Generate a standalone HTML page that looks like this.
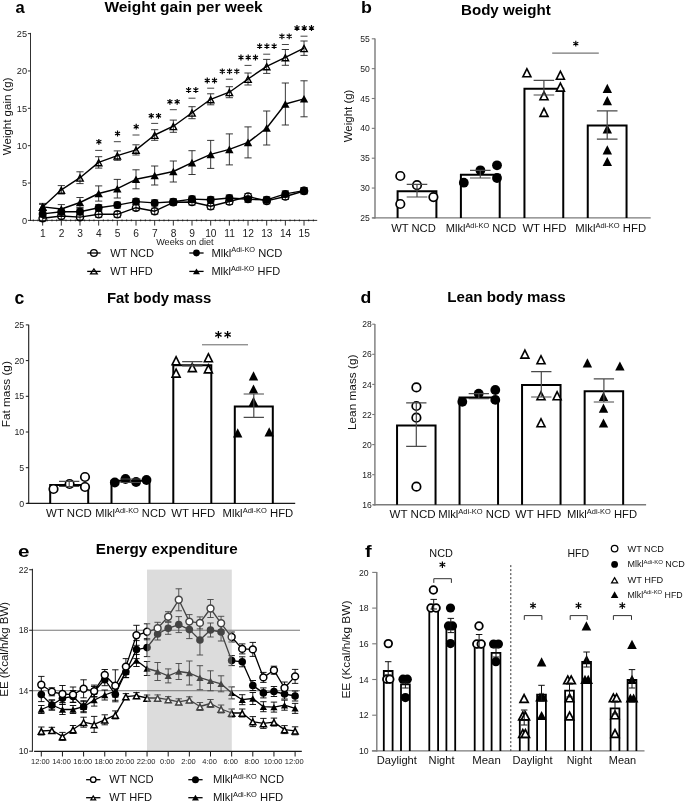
<!DOCTYPE html>
<html><head><meta charset="utf-8"><style>
html,body{margin:0;padding:0;background:#fff;}
svg{display:block;will-change:transform;filter:blur(0.3px);}
text{font-family:"Liberation Sans",sans-serif;}
</style></head><body>
<svg width="685" height="803" viewBox="0 0 685 803">
<rect width="685" height="803" fill="#fff"/>
<text x="15.6" y="13.1" font-size="16.5" font-weight="bold" fill="#000">a</text>
<text x="104.4" y="12.2" font-size="14" font-weight="bold" textLength="158.3" lengthAdjust="spacingAndGlyphs" fill="#000">Weight gain per week</text>
<line x1="30.5" y1="32.9" x2="30.5" y2="220.9" stroke="#1a1a1a" stroke-width="0.9"/>
<line x1="30" y1="220.4" x2="317.2" y2="220.4" stroke="#1a1a1a" stroke-width="0.9"/>
<line x1="27.9" y1="220.4" x2="30.5" y2="220.4" stroke="#1a1a1a" stroke-width="0.9"/>
<text x="27.1" y="223.7" font-size="9.2" text-anchor="end" fill="#222">0</text>
<line x1="27.9" y1="183.04" x2="30.5" y2="183.04" stroke="#1a1a1a" stroke-width="0.9"/>
<text x="27.1" y="186.34" font-size="9.2" text-anchor="end" fill="#222">5</text>
<line x1="27.9" y1="145.68" x2="30.5" y2="145.68" stroke="#1a1a1a" stroke-width="0.9"/>
<text x="27.1" y="148.98" font-size="9.2" text-anchor="end" fill="#222">10</text>
<line x1="27.9" y1="108.32" x2="30.5" y2="108.32" stroke="#1a1a1a" stroke-width="0.9"/>
<text x="27.1" y="111.62" font-size="9.2" text-anchor="end" fill="#222">15</text>
<line x1="27.9" y1="70.96" x2="30.5" y2="70.96" stroke="#1a1a1a" stroke-width="0.9"/>
<text x="27.1" y="74.26" font-size="9.2" text-anchor="end" fill="#222">20</text>
<line x1="27.9" y1="33.6" x2="30.5" y2="33.6" stroke="#1a1a1a" stroke-width="0.9"/>
<text x="27.1" y="36.9" font-size="9.2" text-anchor="end" fill="#222">25</text>
<path d="M33.31 219.5V221.3M37.98 219.5V221.3M47.32 219.5V221.3M51.98 219.5V221.3M56.65 219.5V221.3M65.99 219.5V221.3M70.66 219.5V221.3M75.32 219.5V221.3M84.66 219.5V221.3M89.33 219.5V221.3M93.99 219.5V221.3M103.33 219.5V221.3M108 219.5V221.3M112.66 219.5V221.3M122 219.5V221.3M126.67 219.5V221.3M131.33 219.5V221.3M140.67 219.5V221.3M145.34 219.5V221.3M150 219.5V221.3M159.34 219.5V221.3M164.01 219.5V221.3M168.67 219.5V221.3M178.01 219.5V221.3M182.68 219.5V221.3M187.34 219.5V221.3M196.68 219.5V221.3M201.35 219.5V221.3M206.01 219.5V221.3M215.35 219.5V221.3M220.02 219.5V221.3M224.68 219.5V221.3M234.02 219.5V221.3M238.69 219.5V221.3M243.35 219.5V221.3M252.69 219.5V221.3M257.36 219.5V221.3M262.02 219.5V221.3M271.36 219.5V221.3M276.03 219.5V221.3M280.69 219.5V221.3M290.03 219.5V221.3M294.69 219.5V221.3M299.36 219.5V221.3M308.7 219.5V221.3M313.37 219.5V221.3" stroke="#1a1a1a" stroke-width="0.9"/>
<line x1="42.65" y1="220.4" x2="42.65" y2="225.6" stroke="#1a1a1a" stroke-width="0.9"/>
<text x="42.85" y="236.5" font-size="10.2" text-anchor="middle" fill="#222">1</text>
<line x1="61.32" y1="220.4" x2="61.32" y2="225.6" stroke="#1a1a1a" stroke-width="0.9"/>
<text x="61.52" y="236.5" font-size="10.2" text-anchor="middle" fill="#222">2</text>
<line x1="79.99" y1="220.4" x2="79.99" y2="225.6" stroke="#1a1a1a" stroke-width="0.9"/>
<text x="80.19" y="236.5" font-size="10.2" text-anchor="middle" fill="#222">3</text>
<line x1="98.66" y1="220.4" x2="98.66" y2="225.6" stroke="#1a1a1a" stroke-width="0.9"/>
<text x="98.86" y="236.5" font-size="10.2" text-anchor="middle" fill="#222">4</text>
<line x1="117.33" y1="220.4" x2="117.33" y2="225.6" stroke="#1a1a1a" stroke-width="0.9"/>
<text x="117.53" y="236.5" font-size="10.2" text-anchor="middle" fill="#222">5</text>
<line x1="136" y1="220.4" x2="136" y2="225.6" stroke="#1a1a1a" stroke-width="0.9"/>
<text x="136.2" y="236.5" font-size="10.2" text-anchor="middle" fill="#222">6</text>
<line x1="154.67" y1="220.4" x2="154.67" y2="225.6" stroke="#1a1a1a" stroke-width="0.9"/>
<text x="154.87" y="236.5" font-size="10.2" text-anchor="middle" fill="#222">7</text>
<line x1="173.34" y1="220.4" x2="173.34" y2="225.6" stroke="#1a1a1a" stroke-width="0.9"/>
<text x="173.54" y="236.5" font-size="10.2" text-anchor="middle" fill="#222">8</text>
<line x1="192.01" y1="220.4" x2="192.01" y2="225.6" stroke="#1a1a1a" stroke-width="0.9"/>
<text x="192.21" y="236.5" font-size="10.2" text-anchor="middle" fill="#222">9</text>
<line x1="210.68" y1="220.4" x2="210.68" y2="225.6" stroke="#1a1a1a" stroke-width="0.9"/>
<text x="210.88" y="236.5" font-size="10.2" text-anchor="middle" fill="#222">10</text>
<line x1="229.35" y1="220.4" x2="229.35" y2="225.6" stroke="#1a1a1a" stroke-width="0.9"/>
<text x="229.55" y="236.5" font-size="10.2" text-anchor="middle" fill="#222">11</text>
<line x1="248.02" y1="220.4" x2="248.02" y2="225.6" stroke="#1a1a1a" stroke-width="0.9"/>
<text x="248.22" y="236.5" font-size="10.2" text-anchor="middle" fill="#222">12</text>
<line x1="266.69" y1="220.4" x2="266.69" y2="225.6" stroke="#1a1a1a" stroke-width="0.9"/>
<text x="266.89" y="236.5" font-size="10.2" text-anchor="middle" fill="#222">13</text>
<line x1="285.36" y1="220.4" x2="285.36" y2="225.6" stroke="#1a1a1a" stroke-width="0.9"/>
<text x="285.56" y="236.5" font-size="10.2" text-anchor="middle" fill="#222">14</text>
<line x1="304.03" y1="220.4" x2="304.03" y2="225.6" stroke="#1a1a1a" stroke-width="0.9"/>
<text x="304.23" y="236.5" font-size="10.2" text-anchor="middle" fill="#222">15</text>
<text x="156.2" y="245" font-size="9" textLength="57.4" lengthAdjust="spacingAndGlyphs" fill="#222">Weeks on diet</text>
<text x="11.3" y="116.3" font-size="11" text-anchor="middle" textLength="77.7" lengthAdjust="spacingAndGlyphs" transform="rotate(-90 11.3 116.3)" fill="#111">Weight gain (g)</text>
<path d="M42.65 204.4V209.4M39.05 204.4H46.25M39.05 209.4H46.25" stroke="#222" stroke-width="0.9" fill="none"/>
<path d="M42.65 210.9V216.9M39.05 210.9H46.25M39.05 216.9H46.25" stroke="#222" stroke-width="0.9" fill="none"/>
<path d="M42.65 215.2V221.2M39.05 215.2H46.25M39.05 221.2H46.25" stroke="#222" stroke-width="0.9" fill="none"/>
<path d="M42.65 203.4V210.4M39.05 203.4H46.25M39.05 210.4H46.25" stroke="#222" stroke-width="0.9" fill="none"/>
<path d="M61.32 204.6V213.4M57.72 204.6H64.92M57.72 213.4H64.92" stroke="#222" stroke-width="0.9" fill="none"/>
<path d="M61.32 208.7V214.7M57.72 208.7H64.92M57.72 214.7H64.92" stroke="#222" stroke-width="0.9" fill="none"/>
<path d="M61.32 213V219M57.72 213H64.92M57.72 219H64.92" stroke="#222" stroke-width="0.9" fill="none"/>
<path d="M61.32 185.6V194M57.72 185.6H64.92M57.72 194H64.92" stroke="#222" stroke-width="0.9" fill="none"/>
<path d="M79.99 197.5V207.5M76.39 197.5H83.59M76.39 207.5H83.59" stroke="#222" stroke-width="0.9" fill="none"/>
<path d="M79.99 208.7V214.7M76.39 208.7H83.59M76.39 214.7H83.59" stroke="#222" stroke-width="0.9" fill="none"/>
<path d="M79.99 214.1V220.1M76.39 214.1H83.59M76.39 220.1H83.59" stroke="#222" stroke-width="0.9" fill="none"/>
<path d="M79.99 171.8V183.6M76.39 171.8H83.59M76.39 183.6H83.59" stroke="#222" stroke-width="0.9" fill="none"/>
<path d="M98.66 185.9V201.1M95.06 185.9H102.26M95.06 201.1H102.26" stroke="#222" stroke-width="0.9" fill="none"/>
<path d="M98.66 204.7V210.7M95.06 204.7H102.26M95.06 210.7H102.26" stroke="#222" stroke-width="0.9" fill="none"/>
<path d="M98.66 211.3V217.3M95.06 211.3H102.26M95.06 217.3H102.26" stroke="#222" stroke-width="0.9" fill="none"/>
<path d="M98.66 156.7V168.1M95.06 156.7H102.26M95.06 168.1H102.26" stroke="#222" stroke-width="0.9" fill="none"/>
<path d="M117.33 179.4V198M113.73 179.4H120.93M113.73 198H120.93" stroke="#222" stroke-width="0.9" fill="none"/>
<path d="M117.33 202.1V208.1M113.73 202.1H120.93M113.73 208.1H120.93" stroke="#222" stroke-width="0.9" fill="none"/>
<path d="M117.33 211.3V217.3M113.73 211.3H120.93M113.73 217.3H120.93" stroke="#222" stroke-width="0.9" fill="none"/>
<path d="M117.33 150.9V160.3M113.73 150.9H120.93M113.73 160.3H120.93" stroke="#222" stroke-width="0.9" fill="none"/>
<path d="M136 169.8V188.8M132.4 169.8H139.6M132.4 188.8H139.6" stroke="#222" stroke-width="0.9" fill="none"/>
<path d="M136 198.6V204.6M132.4 198.6H139.6M132.4 204.6H139.6" stroke="#222" stroke-width="0.9" fill="none"/>
<path d="M136 204.7V210.7M132.4 204.7H139.6M132.4 210.7H139.6" stroke="#222" stroke-width="0.9" fill="none"/>
<path d="M136 144.8V155M132.4 144.8H139.6M132.4 155H139.6" stroke="#222" stroke-width="0.9" fill="none"/>
<path d="M154.67 166V185M151.07 166H158.27M151.07 185H158.27" stroke="#222" stroke-width="0.9" fill="none"/>
<path d="M154.67 199.9V205.9M151.07 199.9H158.27M151.07 205.9H158.27" stroke="#222" stroke-width="0.9" fill="none"/>
<path d="M154.67 208.2V214.2M151.07 208.2H158.27M151.07 214.2H158.27" stroke="#222" stroke-width="0.9" fill="none"/>
<path d="M154.67 129.7V140.3M151.07 129.7H158.27M151.07 140.3H158.27" stroke="#222" stroke-width="0.9" fill="none"/>
<path d="M173.34 161V182M169.74 161H176.94M169.74 182H176.94" stroke="#222" stroke-width="0.9" fill="none"/>
<path d="M173.34 198.8V204.8M169.74 198.8H176.94M169.74 204.8H176.94" stroke="#222" stroke-width="0.9" fill="none"/>
<path d="M173.34 199.3V205.3M169.74 199.3H176.94M169.74 205.3H176.94" stroke="#222" stroke-width="0.9" fill="none"/>
<path d="M173.34 120.1V132.3M169.74 120.1H176.94M169.74 132.3H176.94" stroke="#222" stroke-width="0.9" fill="none"/>
<path d="M192.01 150.7V174.5M188.41 150.7H195.61M188.41 174.5H195.61" stroke="#222" stroke-width="0.9" fill="none"/>
<path d="M192.01 196.1V202.1M188.41 196.1H195.61M188.41 202.1H195.61" stroke="#222" stroke-width="0.9" fill="none"/>
<path d="M192.01 199V205M188.41 199H195.61M188.41 205H195.61" stroke="#222" stroke-width="0.9" fill="none"/>
<path d="M192.01 106.7V118.7M188.41 106.7H195.61M188.41 118.7H195.61" stroke="#222" stroke-width="0.9" fill="none"/>
<path d="M210.68 140.4V168.4M207.08 140.4H214.28M207.08 168.4H214.28" stroke="#222" stroke-width="0.9" fill="none"/>
<path d="M210.68 196.8V202.8M207.08 196.8H214.28M207.08 202.8H214.28" stroke="#222" stroke-width="0.9" fill="none"/>
<path d="M210.68 203.3V209.3M207.08 203.3H214.28M207.08 209.3H214.28" stroke="#222" stroke-width="0.9" fill="none"/>
<path d="M210.68 93.8V104.8M207.08 93.8H214.28M207.08 104.8H214.28" stroke="#222" stroke-width="0.9" fill="none"/>
<path d="M229.35 133.9V164.9M225.75 133.9H232.95M225.75 164.9H232.95" stroke="#222" stroke-width="0.9" fill="none"/>
<path d="M229.35 195V201M225.75 195H232.95M225.75 201H232.95" stroke="#222" stroke-width="0.9" fill="none"/>
<path d="M229.35 198.5V204.5M225.75 198.5H232.95M225.75 204.5H232.95" stroke="#222" stroke-width="0.9" fill="none"/>
<path d="M229.35 86.7V97.7M225.75 86.7H232.95M225.75 97.7H232.95" stroke="#222" stroke-width="0.9" fill="none"/>
<path d="M248.02 126.9V157.9M244.42 126.9H251.62M244.42 157.9H251.62" stroke="#222" stroke-width="0.9" fill="none"/>
<path d="M248.02 196.3V202.3M244.42 196.3H251.62M244.42 202.3H251.62" stroke="#222" stroke-width="0.9" fill="none"/>
<path d="M248.02 193.5V199.5M244.42 193.5H251.62M244.42 199.5H251.62" stroke="#222" stroke-width="0.9" fill="none"/>
<path d="M248.02 73V85M244.42 73H251.62M244.42 85H251.62" stroke="#222" stroke-width="0.9" fill="none"/>
<path d="M266.69 111V145M263.09 111H270.29M263.09 145H270.29" stroke="#222" stroke-width="0.9" fill="none"/>
<path d="M266.69 196.8V202.8M263.09 196.8H270.29M263.09 202.8H270.29" stroke="#222" stroke-width="0.9" fill="none"/>
<path d="M266.69 197.9V203.9M263.09 197.9H270.29M263.09 203.9H270.29" stroke="#222" stroke-width="0.9" fill="none"/>
<path d="M266.69 59.4V73.4M263.09 59.4H270.29M263.09 73.4H270.29" stroke="#222" stroke-width="0.9" fill="none"/>
<path d="M285.36 83V125M281.76 83H288.96M281.76 125H288.96" stroke="#222" stroke-width="0.9" fill="none"/>
<path d="M285.36 190.9V196.9M281.76 190.9H288.96M281.76 196.9H288.96" stroke="#222" stroke-width="0.9" fill="none"/>
<path d="M285.36 193.5V199.5M281.76 193.5H288.96M281.76 199.5H288.96" stroke="#222" stroke-width="0.9" fill="none"/>
<path d="M285.36 49.5V65.3M281.76 49.5H288.96M281.76 65.3H288.96" stroke="#222" stroke-width="0.9" fill="none"/>
<path d="M304.03 80.8V116.8M300.43 80.8H307.63M300.43 116.8H307.63" stroke="#222" stroke-width="0.9" fill="none"/>
<path d="M304.03 187.6V193.6M300.43 187.6H307.63M300.43 193.6H307.63" stroke="#222" stroke-width="0.9" fill="none"/>
<path d="M304.03 188V194M300.43 188H307.63M300.43 194H307.63" stroke="#222" stroke-width="0.9" fill="none"/>
<path d="M304.03 41V55.4M300.43 41H307.63M300.43 55.4H307.63" stroke="#222" stroke-width="0.9" fill="none"/>
<polyline points="42.65,218.2 61.32,216 79.99,217.1 98.66,214.3 117.33,214.3 136,207.7 154.67,211.2 173.34,202.3 192.01,202 210.68,206.3 229.35,201.5 248.02,196.5 266.69,200.9 285.36,196.5 304.03,191" fill="none" stroke="#000" stroke-width="1.4" stroke-linejoin="round"/>
<polyline points="42.65,213.9 61.32,211.7 79.99,211.7 98.66,207.7 117.33,205.1 136,201.6 154.67,202.9 173.34,201.8 192.01,199.1 210.68,199.8 229.35,198 248.02,199.3 266.69,199.8 285.36,193.9 304.03,190.6" fill="none" stroke="#000" stroke-width="1.4" stroke-linejoin="round"/>
<polyline points="42.65,206.9 61.32,209 79.99,202.5 98.66,193.5 117.33,188.7 136,179.3 154.67,175.5 173.34,171.5 192.01,162.6 210.68,154.4 229.35,149.4 248.02,142.4 266.69,128 285.36,104 304.03,98.8" fill="none" stroke="#000" stroke-width="1.4" stroke-linejoin="round"/>
<polyline points="42.65,206.9 61.32,189.8 79.99,177.7 98.66,162.4 117.33,155.6 136,149.9 154.67,135 173.34,126.2 192.01,112.7 210.68,99.3 229.35,92.2 248.02,79 266.69,66.4 285.36,57.4 304.03,48.2" fill="none" stroke="#000" stroke-width="1.4" stroke-linejoin="round"/>
<circle cx="42.65" cy="218.2" r="3.6" fill="none" stroke="#000" stroke-width="1.4"/>
<circle cx="61.32" cy="216" r="3.6" fill="none" stroke="#000" stroke-width="1.4"/>
<circle cx="79.99" cy="217.1" r="3.6" fill="none" stroke="#000" stroke-width="1.4"/>
<circle cx="98.66" cy="214.3" r="3.6" fill="none" stroke="#000" stroke-width="1.4"/>
<circle cx="117.33" cy="214.3" r="3.6" fill="none" stroke="#000" stroke-width="1.4"/>
<circle cx="136" cy="207.7" r="3.6" fill="none" stroke="#000" stroke-width="1.4"/>
<circle cx="154.67" cy="211.2" r="3.6" fill="none" stroke="#000" stroke-width="1.4"/>
<circle cx="173.34" cy="202.3" r="3.6" fill="none" stroke="#000" stroke-width="1.4"/>
<circle cx="192.01" cy="202" r="3.6" fill="none" stroke="#000" stroke-width="1.4"/>
<circle cx="210.68" cy="206.3" r="3.6" fill="none" stroke="#000" stroke-width="1.4"/>
<circle cx="229.35" cy="201.5" r="3.6" fill="none" stroke="#000" stroke-width="1.4"/>
<circle cx="248.02" cy="196.5" r="3.6" fill="none" stroke="#000" stroke-width="1.4"/>
<circle cx="266.69" cy="200.9" r="3.6" fill="none" stroke="#000" stroke-width="1.4"/>
<circle cx="285.36" cy="196.5" r="3.6" fill="none" stroke="#000" stroke-width="1.4"/>
<circle cx="304.03" cy="191" r="3.6" fill="none" stroke="#000" stroke-width="1.4"/>
<path d="M42.65 202.8L47.05 211L38.25 211ZM42.65 205.76L44.71 209.6L40.59 209.6Z" fill="#000" fill-rule="evenodd"/>
<path d="M61.32 185.7L65.72 193.9L56.92 193.9ZM61.32 188.66L63.38 192.5L59.26 192.5Z" fill="#000" fill-rule="evenodd"/>
<path d="M79.99 173.6L84.39 181.8L75.59 181.8ZM79.99 176.56L82.05 180.4L77.93 180.4Z" fill="#000" fill-rule="evenodd"/>
<path d="M98.66 158.3L103.06 166.5L94.26 166.5ZM98.66 161.26L100.72 165.1L96.6 165.1Z" fill="#000" fill-rule="evenodd"/>
<path d="M117.33 151.5L121.73 159.7L112.93 159.7ZM117.33 154.46L119.39 158.3L115.27 158.3Z" fill="#000" fill-rule="evenodd"/>
<path d="M136 145.8L140.4 154L131.6 154ZM136 148.76L138.06 152.6L133.94 152.6Z" fill="#000" fill-rule="evenodd"/>
<path d="M154.67 130.9L159.07 139.1L150.27 139.1ZM154.67 133.86L156.73 137.7L152.61 137.7Z" fill="#000" fill-rule="evenodd"/>
<path d="M173.34 122.1L177.74 130.3L168.94 130.3ZM173.34 125.06L175.4 128.9L171.28 128.9Z" fill="#000" fill-rule="evenodd"/>
<path d="M192.01 108.6L196.41 116.8L187.61 116.8ZM192.01 111.56L194.07 115.4L189.95 115.4Z" fill="#000" fill-rule="evenodd"/>
<path d="M210.68 95.2L215.08 103.4L206.28 103.4ZM210.68 98.16L212.74 102L208.62 102Z" fill="#000" fill-rule="evenodd"/>
<path d="M229.35 88.1L233.75 96.3L224.95 96.3ZM229.35 91.06L231.41 94.9L227.29 94.9Z" fill="#000" fill-rule="evenodd"/>
<path d="M248.02 74.9L252.42 83.1L243.62 83.1ZM248.02 77.86L250.08 81.7L245.96 81.7Z" fill="#000" fill-rule="evenodd"/>
<path d="M266.69 62.3L271.09 70.5L262.29 70.5ZM266.69 65.26L268.75 69.1L264.63 69.1Z" fill="#000" fill-rule="evenodd"/>
<path d="M285.36 53.3L289.76 61.5L280.96 61.5ZM285.36 56.26L287.42 60.1L283.3 60.1Z" fill="#000" fill-rule="evenodd"/>
<path d="M304.03 44.1L308.43 52.3L299.63 52.3ZM304.03 47.06L306.09 50.9L301.97 50.9Z" fill="#000" fill-rule="evenodd"/>
<circle cx="42.65" cy="213.9" r="4" fill="#000"/>
<circle cx="61.32" cy="211.7" r="4" fill="#000"/>
<circle cx="79.99" cy="211.7" r="4" fill="#000"/>
<circle cx="98.66" cy="207.7" r="4" fill="#000"/>
<circle cx="117.33" cy="205.1" r="4" fill="#000"/>
<circle cx="136" cy="201.6" r="4" fill="#000"/>
<circle cx="154.67" cy="202.9" r="4" fill="#000"/>
<circle cx="173.34" cy="201.8" r="4" fill="#000"/>
<circle cx="192.01" cy="199.1" r="4" fill="#000"/>
<circle cx="210.68" cy="199.8" r="4" fill="#000"/>
<circle cx="229.35" cy="198" r="4" fill="#000"/>
<circle cx="248.02" cy="199.3" r="4" fill="#000"/>
<circle cx="266.69" cy="199.8" r="4" fill="#000"/>
<circle cx="285.36" cy="193.9" r="4" fill="#000"/>
<circle cx="304.03" cy="190.6" r="4" fill="#000"/>
<polygon points="42.65,203.1 46.85,210.7 38.45,210.7" fill="#000"/>
<polygon points="61.32,205.2 65.52,212.8 57.12,212.8" fill="#000"/>
<polygon points="79.99,198.7 84.19,206.3 75.79,206.3" fill="#000"/>
<polygon points="98.66,189.7 102.86,197.3 94.46,197.3" fill="#000"/>
<polygon points="117.33,184.9 121.53,192.5 113.13,192.5" fill="#000"/>
<polygon points="136,175.5 140.2,183.1 131.8,183.1" fill="#000"/>
<polygon points="154.67,171.7 158.87,179.3 150.47,179.3" fill="#000"/>
<polygon points="173.34,167.7 177.54,175.3 169.14,175.3" fill="#000"/>
<polygon points="192.01,158.8 196.21,166.4 187.81,166.4" fill="#000"/>
<polygon points="210.68,150.6 214.88,158.2 206.48,158.2" fill="#000"/>
<polygon points="229.35,145.6 233.55,153.2 225.15,153.2" fill="#000"/>
<polygon points="248.02,138.6 252.22,146.2 243.82,146.2" fill="#000"/>
<polygon points="266.69,124.2 270.89,131.8 262.49,131.8" fill="#000"/>
<polygon points="285.36,100.2 289.56,107.8 281.16,107.8" fill="#000"/>
<polygon points="304.03,95 308.23,102.6 299.83,102.6" fill="#000"/>
<line x1="95.16" y1="150.4" x2="102.16" y2="150.4" stroke="#444" stroke-width="1"/>
<path d="M98.86 144.7L98.86 138.9M96.35 143.25L101.37 140.35M101.37 143.25L96.35 140.35" stroke="#000" stroke-width="1.2" fill="none"/>
<line x1="113.83" y1="141.7" x2="120.83" y2="141.7" stroke="#444" stroke-width="1"/>
<path d="M117.53 136.4L117.53 130.6M115.02 134.95L120.04 132.05M120.04 134.95L115.02 132.05" stroke="#000" stroke-width="1.2" fill="none"/>
<line x1="132.5" y1="135" x2="139.5" y2="135" stroke="#444" stroke-width="1"/>
<path d="M136.2 129.6L136.2 123.8M133.69 128.15L138.71 125.25M138.71 128.15L133.69 125.25" stroke="#000" stroke-width="1.2" fill="none"/>
<line x1="151.17" y1="123.4" x2="158.17" y2="123.4" stroke="#444" stroke-width="1"/>
<path d="M151.25 118.7L151.25 112.9M148.73 117.25L153.76 114.35M153.76 117.25L148.73 114.35" stroke="#000" stroke-width="1.2" fill="none"/>
<path d="M158.5 118.7L158.5 112.9M155.98 117.25L161.01 114.35M161.01 117.25L155.98 114.35" stroke="#000" stroke-width="1.2" fill="none"/>
<line x1="169.84" y1="109.7" x2="176.84" y2="109.7" stroke="#444" stroke-width="1"/>
<path d="M169.91 104.7L169.91 98.9M167.4 103.25L172.43 100.35M172.43 103.25L167.4 100.35" stroke="#000" stroke-width="1.2" fill="none"/>
<path d="M177.16 104.7L177.16 98.9M174.65 103.25L179.68 100.35M179.68 103.25L174.65 100.35" stroke="#000" stroke-width="1.2" fill="none"/>
<line x1="188.51" y1="98.2" x2="195.51" y2="98.2" stroke="#444" stroke-width="1"/>
<path d="M188.59 92.9L188.59 87.1M186.07 91.45L191.1 88.55M191.1 91.45L186.07 88.55" stroke="#000" stroke-width="1.2" fill="none"/>
<path d="M195.84 92.9L195.84 87.1M193.32 91.45L198.35 88.55M198.35 91.45L193.32 88.55" stroke="#000" stroke-width="1.2" fill="none"/>
<line x1="207.18" y1="88.2" x2="214.18" y2="88.2" stroke="#444" stroke-width="1"/>
<path d="M207.26 83.4L207.26 77.6M204.74 81.95L209.77 79.05M209.77 81.95L204.74 79.05" stroke="#000" stroke-width="1.2" fill="none"/>
<path d="M214.51 83.4L214.51 77.6M211.99 81.95L217.02 79.05M217.02 81.95L211.99 79.05" stroke="#000" stroke-width="1.2" fill="none"/>
<line x1="225.85" y1="79.2" x2="232.85" y2="79.2" stroke="#444" stroke-width="1"/>
<path d="M222.3 74.2L222.3 68.4M219.79 72.75L224.81 69.85M224.81 72.75L219.79 69.85" stroke="#000" stroke-width="1.2" fill="none"/>
<path d="M229.55 74.2L229.55 68.4M227.04 72.75L232.06 69.85M232.06 72.75L227.04 69.85" stroke="#000" stroke-width="1.2" fill="none"/>
<path d="M236.8 74.2L236.8 68.4M234.29 72.75L239.31 69.85M239.31 72.75L234.29 69.85" stroke="#000" stroke-width="1.2" fill="none"/>
<line x1="244.52" y1="65.4" x2="251.52" y2="65.4" stroke="#444" stroke-width="1"/>
<path d="M240.97 60.4L240.97 54.6M238.46 58.95L243.48 56.05M243.48 58.95L238.46 56.05" stroke="#000" stroke-width="1.2" fill="none"/>
<path d="M248.22 60.4L248.22 54.6M245.71 58.95L250.73 56.05M250.73 58.95L245.71 56.05" stroke="#000" stroke-width="1.2" fill="none"/>
<path d="M255.47 60.4L255.47 54.6M252.96 58.95L257.98 56.05M257.98 58.95L252.96 56.05" stroke="#000" stroke-width="1.2" fill="none"/>
<line x1="263.19" y1="54.2" x2="270.19" y2="54.2" stroke="#444" stroke-width="1"/>
<path d="M259.64 49L259.64 43.2M257.13 47.55L262.15 44.65M262.15 47.55L257.13 44.65" stroke="#000" stroke-width="1.2" fill="none"/>
<path d="M266.89 49L266.89 43.2M264.38 47.55L269.4 44.65M269.4 47.55L264.38 44.65" stroke="#000" stroke-width="1.2" fill="none"/>
<path d="M274.14 49L274.14 43.2M271.63 47.55L276.65 44.65M276.65 47.55L271.63 44.65" stroke="#000" stroke-width="1.2" fill="none"/>
<line x1="281.86" y1="44.5" x2="288.86" y2="44.5" stroke="#444" stroke-width="1"/>
<path d="M281.94 39.2L281.94 33.4M279.42 37.75L284.45 34.85M284.45 37.75L279.42 34.85" stroke="#000" stroke-width="1.2" fill="none"/>
<path d="M289.19 39.2L289.19 33.4M286.67 37.75L291.7 34.85M291.7 37.75L286.67 34.85" stroke="#000" stroke-width="1.2" fill="none"/>
<line x1="300.53" y1="36.2" x2="307.53" y2="36.2" stroke="#444" stroke-width="1"/>
<path d="M296.98 30.9L296.98 25.1M294.47 29.45L299.49 26.55M299.49 29.45L294.47 26.55" stroke="#000" stroke-width="1.2" fill="none"/>
<path d="M304.23 30.9L304.23 25.1M301.72 29.45L306.74 26.55M306.74 29.45L301.72 26.55" stroke="#000" stroke-width="1.2" fill="none"/>
<path d="M311.48 30.9L311.48 25.1M308.97 29.45L313.99 26.55M313.99 29.45L308.97 26.55" stroke="#000" stroke-width="1.2" fill="none"/>
<line x1="87.2" y1="253" x2="100.6" y2="253" stroke="#000" stroke-width="1.3"/>
<circle cx="93.9" cy="253" r="3.35" fill="none" stroke="#000" stroke-width="1.3"/>
<text x="110.2" y="256.6" font-size="11" textLength="43.8" lengthAdjust="spacingAndGlyphs" fill="#111">WT NCD</text>
<line x1="87.2" y1="271.4" x2="100.6" y2="271.4" stroke="#000" stroke-width="1.3"/>
<polygon points="93.9,268.9 97.2,273.8 90.6,273.8" fill="none" stroke="#000" stroke-width="1.3"/>
<text x="110.2" y="275" font-size="11" textLength="42.4" lengthAdjust="spacingAndGlyphs" fill="#111">WT HFD</text>
<line x1="189.3" y1="253" x2="203.6" y2="253" stroke="#000" stroke-width="1.3"/>
<circle cx="196.45" cy="253" r="3.4" fill="#000"/>
<text x="0" y="0" font-size="11" fill="#111" transform="translate(211.4 256.6) scale(1.016 1)">Mlkl<tspan font-size="7.3" dy="-4.4">Adi-KO</tspan><tspan dy="4.4"> NCD</tspan></text>
<line x1="189.3" y1="271.4" x2="203.6" y2="271.4" stroke="#000" stroke-width="1.3"/>
<polygon points="196.45,268.6 199.95,274.2 192.95,274.2" fill="#000"/>
<text x="0" y="0" font-size="11" fill="#111" transform="translate(211.4 275) scale(1.0 1)">Mlkl<tspan font-size="7.3" dy="-4.4">Adi-KO</tspan><tspan dy="4.4"> HFD</tspan></text>
<text x="361.1" y="13.3" font-size="16.5" font-weight="bold" textLength="10.9" lengthAdjust="spacingAndGlyphs" fill="#000">b</text>
<text x="461" y="14.8" font-size="14" font-weight="bold" textLength="89.8" lengthAdjust="spacingAndGlyphs" fill="#000">Body weight</text>
<line x1="375" y1="38.5" x2="375" y2="218.5" stroke="#7a7a7a" stroke-width="1.4"/>
<line x1="372.3" y1="217.9" x2="650.7" y2="217.9" stroke="#7a7a7a" stroke-width="1.4"/>
<line x1="371.8" y1="217.9" x2="375" y2="217.9" stroke="#7a7a7a" stroke-width="1.1"/>
<text x="369.8" y="221" font-size="8.6" text-anchor="end" fill="#222">25</text>
<line x1="371.8" y1="188.05" x2="375" y2="188.05" stroke="#7a7a7a" stroke-width="1.1"/>
<text x="369.8" y="191.15" font-size="8.6" text-anchor="end" fill="#222">30</text>
<line x1="371.8" y1="158.2" x2="375" y2="158.2" stroke="#7a7a7a" stroke-width="1.1"/>
<text x="369.8" y="161.3" font-size="8.6" text-anchor="end" fill="#222">35</text>
<line x1="371.8" y1="128.35" x2="375" y2="128.35" stroke="#7a7a7a" stroke-width="1.1"/>
<text x="369.8" y="131.45" font-size="8.6" text-anchor="end" fill="#222">40</text>
<line x1="371.8" y1="98.5" x2="375" y2="98.5" stroke="#7a7a7a" stroke-width="1.1"/>
<text x="369.8" y="101.6" font-size="8.6" text-anchor="end" fill="#222">45</text>
<line x1="371.8" y1="68.65" x2="375" y2="68.65" stroke="#7a7a7a" stroke-width="1.1"/>
<text x="369.8" y="71.75" font-size="8.6" text-anchor="end" fill="#222">50</text>
<line x1="371.8" y1="38.8" x2="375" y2="38.8" stroke="#7a7a7a" stroke-width="1.1"/>
<text x="369.8" y="41.9" font-size="8.6" text-anchor="end" fill="#222">55</text>
<text x="352.1" y="115.9" font-size="11" text-anchor="middle" textLength="52.7" lengthAdjust="spacingAndGlyphs" transform="rotate(-90 352.1 115.9)" fill="#111">Weight (g)</text>
<path d="M397.6 217.1V191.3H436.4V217.1Z" fill="#fff" stroke="none"/>
<path d="M397.6 217.9V191.3H436.4V217.9" fill="none" stroke="#000" stroke-width="2" stroke-linejoin="miter"/>
<path d="M460.9 217.1V174.7H499.7V217.1Z" fill="#fff" stroke="none"/>
<path d="M460.9 217.9V174.7H499.7V217.9" fill="none" stroke="#000" stroke-width="2" stroke-linejoin="miter"/>
<path d="M524.45 217.1V88.8H563.25V217.1Z" fill="#fff" stroke="none"/>
<path d="M524.45 217.9V88.8H563.25V217.9" fill="none" stroke="#000" stroke-width="2" stroke-linejoin="miter"/>
<path d="M587.75 217.1V125.5H626.55V217.1Z" fill="#fff" stroke="none"/>
<path d="M587.75 217.9V125.5H626.55V217.9" fill="none" stroke="#000" stroke-width="2" stroke-linejoin="miter"/>
<circle cx="400.3" cy="176" r="4.25" fill="#fff" stroke="#000" stroke-width="1.7"/>
<circle cx="417" cy="185.2" r="4.25" fill="#fff" stroke="#000" stroke-width="1.7"/>
<circle cx="400.3" cy="204" r="4.25" fill="#fff" stroke="#000" stroke-width="1.7"/>
<circle cx="433.4" cy="197.1" r="4.25" fill="#fff" stroke="#000" stroke-width="1.7"/>
<circle cx="463.8" cy="182.7" r="4.9" fill="#000"/>
<circle cx="480.4" cy="170.3" r="4.9" fill="#000"/>
<circle cx="497" cy="165.3" r="4.9" fill="#000"/>
<circle cx="497" cy="178" r="4.9" fill="#000"/>
<polygon points="526.9,66.9 532.2,77.5 521.6,77.5" fill="#000"/>
<polygon points="526.9,70.48 529.61,75.9 524.19,75.9" fill="#fff"/>
<polygon points="560.4,69.4 565.7,80 555.1,80" fill="#000"/>
<polygon points="560.4,72.98 563.11,78.4 557.69,78.4" fill="#fff"/>
<polygon points="560.4,81.3 565.7,91.9 555.1,91.9" fill="#000"/>
<polygon points="560.4,84.88 563.11,90.3 557.69,90.3" fill="#fff"/>
<polygon points="544,90 549.3,100.6 538.7,100.6" fill="#000"/>
<polygon points="544,93.58 546.71,99 541.29,99" fill="#fff"/>
<polygon points="544,106.6 549.3,117.2 538.7,117.2" fill="#000"/>
<polygon points="544,110.18 546.71,115.6 541.29,115.6" fill="#fff"/>
<polygon points="607.3,83.7 612,92.9 602.6,92.9" fill="#000"/>
<polygon points="607.3,96.1 612,105.3 602.6,105.3" fill="#000"/>
<polygon points="607.3,124.2 612,133.4 602.6,133.4" fill="#000"/>
<polygon points="607.3,145.3 612,154.5 602.6,154.5" fill="#000"/>
<polygon points="607.3,156.9 612,166.1 602.6,166.1" fill="#000"/>
<path d="M417 184.3V197M406.7 184.3H427.3M406.7 197H427.3" stroke="#4a4a4a" stroke-width="1.2" fill="none"/>
<path d="M480.3 170.3V178M470 170.3H490.6M470 178H490.6" stroke="#4a4a4a" stroke-width="1.2" fill="none"/>
<path d="M543.9 80.4V95M533.6 80.4H554.2M533.6 95H554.2" stroke="#4a4a4a" stroke-width="1.2" fill="none"/>
<path d="M607.2 110.9V139.2M596.9 110.9H617.5M596.9 139.2H617.5" stroke="#4a4a4a" stroke-width="1.2" fill="none"/>
<line x1="552.2" y1="53.1" x2="598.8" y2="53.1" stroke="#555" stroke-width="1"/>
<path d="M575.8 46.5L575.8 40.7M573.29 45.05L578.31 42.15M578.31 45.05L573.29 42.15" stroke="#000" stroke-width="1.1" fill="none"/>
<text x="391.2" y="232.4" font-size="11" textLength="44.6" lengthAdjust="spacingAndGlyphs" fill="#111">WT NCD</text>
<text x="0" y="0" font-size="11" fill="#111" transform="translate(445.7 232.4) scale(1.01 1)">Mlkl<tspan font-size="7.3" dy="-4.4">Adi-KO</tspan><tspan dy="4.4"> NCD</tspan></text>
<text x="522.4" y="232.4" font-size="11" textLength="44" lengthAdjust="spacingAndGlyphs" fill="#111">WT HFD</text>
<text x="0" y="0" font-size="11" fill="#111" transform="translate(575.3 232.4) scale(1.03 1)">Mlkl<tspan font-size="7.3" dy="-4.4">Adi-KO</tspan><tspan dy="4.4"> HFD</tspan></text>
<text x="14.6" y="303.7" font-size="17.6" font-weight="bold" fill="#000">c</text>
<text x="107" y="303" font-size="14" font-weight="bold" textLength="104.2" lengthAdjust="spacingAndGlyphs" fill="#000">Fat body mass</text>
<line x1="28.7" y1="324.7" x2="28.7" y2="503.9" stroke="#1a1a1a" stroke-width="1.1"/>
<line x1="26.8" y1="503.4" x2="295.2" y2="503.4" stroke="#1a1a1a" stroke-width="1.1"/>
<line x1="25.8" y1="503.4" x2="28.7" y2="503.4" stroke="#1a1a1a" stroke-width="1"/>
<text x="24.2" y="506.5" font-size="8.8" text-anchor="end" fill="#222">0</text>
<line x1="25.8" y1="467.7" x2="28.7" y2="467.7" stroke="#1a1a1a" stroke-width="1"/>
<text x="24.2" y="470.8" font-size="8.8" text-anchor="end" fill="#222">5</text>
<line x1="25.8" y1="432" x2="28.7" y2="432" stroke="#1a1a1a" stroke-width="1"/>
<text x="24.2" y="435.1" font-size="8.8" text-anchor="end" fill="#222">10</text>
<line x1="25.8" y1="396.3" x2="28.7" y2="396.3" stroke="#1a1a1a" stroke-width="1"/>
<text x="24.2" y="399.4" font-size="8.8" text-anchor="end" fill="#222">15</text>
<line x1="25.8" y1="360.6" x2="28.7" y2="360.6" stroke="#1a1a1a" stroke-width="1"/>
<text x="24.2" y="363.7" font-size="8.8" text-anchor="end" fill="#222">20</text>
<line x1="25.8" y1="324.9" x2="28.7" y2="324.9" stroke="#1a1a1a" stroke-width="1"/>
<text x="24.2" y="328" font-size="8.8" text-anchor="end" fill="#222">25</text>
<text x="9.8" y="394.2" font-size="11" text-anchor="middle" textLength="66" lengthAdjust="spacingAndGlyphs" transform="rotate(-90 9.8 394.2)" fill="#111">Fat mass (g)</text>
<path d="M50.2 502.6V485H88.2V502.6Z" fill="#fff" stroke="none"/>
<path d="M50.2 503.4V485H88.2V503.4" fill="none" stroke="#000" stroke-width="2" stroke-linejoin="miter"/>
<path d="M111.5 502.6V480.8H149.5V502.6Z" fill="#fff" stroke="none"/>
<path d="M111.5 503.4V480.8H149.5V503.4" fill="none" stroke="#000" stroke-width="2" stroke-linejoin="miter"/>
<path d="M173.3 502.6V365.2H211.3V502.6Z" fill="#fff" stroke="none"/>
<path d="M173.3 503.4V365.2H211.3V503.4" fill="none" stroke="#000" stroke-width="2" stroke-linejoin="miter"/>
<path d="M234.8 502.6V406.4H272.8V502.6Z" fill="#fff" stroke="none"/>
<path d="M234.8 503.4V406.4H272.8V503.4" fill="none" stroke="#000" stroke-width="2" stroke-linejoin="miter"/>
<circle cx="53.5" cy="489" r="4.25" fill="#fff" stroke="#000" stroke-width="1.7"/>
<circle cx="69.6" cy="484" r="4.25" fill="#fff" stroke="#000" stroke-width="1.7"/>
<circle cx="85" cy="477" r="4.25" fill="#fff" stroke="#000" stroke-width="1.7"/>
<circle cx="85" cy="487" r="4.25" fill="#fff" stroke="#000" stroke-width="1.7"/>
<circle cx="114.8" cy="482.5" r="4.9" fill="#000"/>
<circle cx="125.5" cy="479" r="4.9" fill="#000"/>
<circle cx="136.1" cy="482" r="4.9" fill="#000"/>
<circle cx="146.5" cy="480" r="4.9" fill="#000"/>
<polygon points="176.1,354.9 181.4,365.5 170.8,365.5" fill="#000"/>
<polygon points="176.1,358.48 178.81,363.9 173.39,363.9" fill="#fff"/>
<polygon points="176.1,367.3 181.4,377.9 170.8,377.9" fill="#000"/>
<polygon points="176.1,370.88 178.81,376.3 173.39,376.3" fill="#fff"/>
<polygon points="192.3,361.8 197.6,372.4 187,372.4" fill="#000"/>
<polygon points="192.3,365.38 195.01,370.8 189.59,370.8" fill="#fff"/>
<polygon points="208.4,351.9 213.7,362.5 203.1,362.5" fill="#000"/>
<polygon points="208.4,355.48 211.11,360.9 205.69,360.9" fill="#fff"/>
<polygon points="208.4,363.1 213.7,373.7 203.1,373.7" fill="#000"/>
<polygon points="208.4,366.68 211.11,372.1 205.69,372.1" fill="#fff"/>
<polygon points="253.5,371.2 258.2,380.4 248.8,380.4" fill="#000"/>
<polygon points="253.5,384.4 258.2,393.6 248.8,393.6" fill="#000"/>
<polygon points="253.5,396.8 258.2,406 248.8,406" fill="#000"/>
<polygon points="237.7,428.3 242.4,437.5 233,437.5" fill="#000"/>
<polygon points="269.2,427.3 273.9,436.5 264.5,436.5" fill="#000"/>
<path d="M69.2 481.3V486.5M59.05 481.3H79.35M59.05 486.5H79.35" stroke="#4a4a4a" stroke-width="1.2" fill="none"/>
<path d="M130.5 479V482.5M120.35 479H140.65M120.35 482.5H140.65" stroke="#4a4a4a" stroke-width="1.2" fill="none"/>
<path d="M192.3 361.7V365.9M182.15 361.7H202.45M182.15 365.9H202.45" stroke="#4a4a4a" stroke-width="1.2" fill="none"/>
<path d="M253.8 394V417.3M243.65 394H263.95M243.65 417.3H263.95" stroke="#4a4a4a" stroke-width="1.2" fill="none"/>
<line x1="202" y1="344.8" x2="248" y2="344.8" stroke="#666" stroke-width="1"/>
<path d="M218.4 338.25L218.4 330.95M215.24 336.43L221.56 332.78M221.56 336.43L215.24 332.78" stroke="#000" stroke-width="1.3" fill="none"/>
<path d="M227.6 338.25L227.6 330.95M224.44 336.43L230.76 332.78M230.76 336.43L224.44 332.78" stroke="#000" stroke-width="1.3" fill="none"/>
<text x="46.1" y="517.4" font-size="11" textLength="45.6" lengthAdjust="spacingAndGlyphs" fill="#111">WT NCD</text>
<text x="0" y="0" font-size="11" fill="#111" transform="translate(95.3 517.4) scale(1.01 1)">Mlkl<tspan font-size="7.3" dy="-4.4">Adi-KO</tspan><tspan dy="4.4"> NCD</tspan></text>
<text x="171.2" y="517.4" font-size="11" textLength="43.9" lengthAdjust="spacingAndGlyphs" fill="#111">WT HFD</text>
<text x="0" y="0" font-size="11" fill="#111" transform="translate(222.5 517.4) scale(1.03 1)">Mlkl<tspan font-size="7.3" dy="-4.4">Adi-KO</tspan><tspan dy="4.4"> HFD</tspan></text>
<text x="360.6" y="303.3" font-size="16.5" font-weight="bold" textLength="10.8" lengthAdjust="spacingAndGlyphs" fill="#000">d</text>
<text x="447.3" y="302.2" font-size="14" font-weight="bold" textLength="118.4" lengthAdjust="spacingAndGlyphs" fill="#000">Lean body mass</text>
<line x1="374.9" y1="324" x2="374.9" y2="505.4" stroke="#7a7a7a" stroke-width="1.4"/>
<line x1="373.2" y1="504.8" x2="646.1" y2="504.8" stroke="#7a7a7a" stroke-width="1.4"/>
<line x1="372.2" y1="504.8" x2="374.9" y2="504.8" stroke="#7a7a7a" stroke-width="1.1"/>
<text x="371.7" y="507.9" font-size="8.5" text-anchor="end" fill="#222">16</text>
<line x1="372.2" y1="474.7" x2="374.9" y2="474.7" stroke="#7a7a7a" stroke-width="1.1"/>
<text x="371.7" y="477.8" font-size="8.5" text-anchor="end" fill="#222">18</text>
<line x1="372.2" y1="444.6" x2="374.9" y2="444.6" stroke="#7a7a7a" stroke-width="1.1"/>
<text x="371.7" y="447.7" font-size="8.5" text-anchor="end" fill="#222">20</text>
<line x1="372.2" y1="414.5" x2="374.9" y2="414.5" stroke="#7a7a7a" stroke-width="1.1"/>
<text x="371.7" y="417.6" font-size="8.5" text-anchor="end" fill="#222">22</text>
<line x1="372.2" y1="384.4" x2="374.9" y2="384.4" stroke="#7a7a7a" stroke-width="1.1"/>
<text x="371.7" y="387.5" font-size="8.5" text-anchor="end" fill="#222">24</text>
<line x1="372.2" y1="354.3" x2="374.9" y2="354.3" stroke="#7a7a7a" stroke-width="1.1"/>
<text x="371.7" y="357.4" font-size="8.5" text-anchor="end" fill="#222">26</text>
<line x1="372.2" y1="324.2" x2="374.9" y2="324.2" stroke="#7a7a7a" stroke-width="1.1"/>
<text x="371.7" y="327.3" font-size="8.5" text-anchor="end" fill="#222">28</text>
<text x="355.7" y="392.3" font-size="11" text-anchor="middle" textLength="75.4" lengthAdjust="spacingAndGlyphs" transform="rotate(-90 355.7 392.3)" fill="#111">Lean mass (g)</text>
<path d="M397.05 504V425.4H435.55V504Z" fill="#fff" stroke="none"/>
<path d="M397.05 504.8V425.4H435.55V504.8" fill="none" stroke="#000" stroke-width="2" stroke-linejoin="miter"/>
<path d="M459.55 504V397.4H498.05V504Z" fill="#fff" stroke="none"/>
<path d="M459.55 504.8V397.4H498.05V504.8" fill="none" stroke="#000" stroke-width="2" stroke-linejoin="miter"/>
<path d="M522.05 504V385.1H560.55V504Z" fill="#fff" stroke="none"/>
<path d="M522.05 504.8V385.1H560.55V504.8" fill="none" stroke="#000" stroke-width="2" stroke-linejoin="miter"/>
<path d="M584.65 504V391.3H623.15V504Z" fill="#fff" stroke="none"/>
<path d="M584.65 504.8V391.3H623.15V504.8" fill="none" stroke="#000" stroke-width="2" stroke-linejoin="miter"/>
<circle cx="416.4" cy="387.4" r="4.25" fill="#fff" stroke="#000" stroke-width="1.7"/>
<circle cx="416.4" cy="406" r="4.25" fill="#fff" stroke="#000" stroke-width="1.7"/>
<circle cx="416.4" cy="417.7" r="4.25" fill="#fff" stroke="#000" stroke-width="1.7"/>
<circle cx="416.4" cy="486.7" r="4.25" fill="#fff" stroke="#000" stroke-width="1.7"/>
<circle cx="462.3" cy="401.8" r="4.9" fill="#000"/>
<circle cx="478.7" cy="393.6" r="4.9" fill="#000"/>
<circle cx="495.3" cy="390" r="4.9" fill="#000"/>
<circle cx="495.3" cy="399.9" r="4.9" fill="#000"/>
<polygon points="524.9,348.3 530.2,358.9 519.6,358.9" fill="#000"/>
<polygon points="524.9,351.88 527.61,357.3 522.19,357.3" fill="#fff"/>
<polygon points="541,354 546.3,364.6 535.7,364.6" fill="#000"/>
<polygon points="541,357.58 543.71,363 538.29,363" fill="#fff"/>
<polygon points="541,390 546.3,400.6 535.7,400.6" fill="#000"/>
<polygon points="541,393.58 543.71,399 538.29,399" fill="#fff"/>
<polygon points="557.1,390 562.4,400.6 551.8,400.6" fill="#000"/>
<polygon points="557.1,393.58 559.81,399 554.39,399" fill="#fff"/>
<polygon points="541,417 546.3,427.6 535.7,427.6" fill="#000"/>
<polygon points="541,420.58 543.71,426 538.29,426" fill="#fff"/>
<polygon points="587.4,358.2 592.1,367.4 582.7,367.4" fill="#000"/>
<polygon points="619.9,361.4 624.6,370.6 615.2,370.6" fill="#000"/>
<polygon points="603.5,391.7 608.2,400.9 598.8,400.9" fill="#000"/>
<polygon points="603.5,403.6 608.2,412.8 598.8,412.8" fill="#000"/>
<polygon points="603.5,418.4 608.2,427.6 598.8,427.6" fill="#000"/>
<path d="M416.3 402.8V446.3M406.15 402.8H426.45M406.15 446.3H426.45" stroke="#4a4a4a" stroke-width="1.2" fill="none"/>
<path d="M478.8 393.6V398.6M468.65 393.6H488.95M468.65 398.6H488.95" stroke="#4a4a4a" stroke-width="1.2" fill="none"/>
<path d="M541.3 371.7V397M531.15 371.7H551.45M531.15 397H551.45" stroke="#4a4a4a" stroke-width="1.2" fill="none"/>
<path d="M603.9 378.9V402M593.75 378.9H614.05M593.75 402H614.05" stroke="#4a4a4a" stroke-width="1.2" fill="none"/>
<text x="389.6" y="518" font-size="11" textLength="46" lengthAdjust="spacingAndGlyphs" fill="#111">WT NCD</text>
<text x="0" y="0" font-size="11" fill="#111" transform="translate(438.2 518) scale(1.03 1)">Mlkl<tspan font-size="7.3" dy="-4.4">Adi-KO</tspan><tspan dy="4.4"> NCD</tspan></text>
<text x="515.3" y="518" font-size="11" textLength="46" lengthAdjust="spacingAndGlyphs" fill="#111">WT HFD</text>
<text x="0" y="0" font-size="11" fill="#111" transform="translate(566.9 518) scale(1.02 1)">Mlkl<tspan font-size="7.3" dy="-4.4">Adi-KO</tspan><tspan dy="4.4"> HFD</tspan></text>
<text x="17.9" y="557.1" font-size="17.3" font-weight="bold" textLength="11.5" lengthAdjust="spacingAndGlyphs" fill="#000">e</text>
<text x="95.8" y="553.9" font-size="14" font-weight="bold" textLength="141.8" lengthAdjust="spacingAndGlyphs" fill="#000">Energy expenditure</text>
<rect x="147" y="569.6" width="84.8" height="181.6" fill="#dcdcdc" stroke="none" stroke-width="0"/>
<line x1="32.4" y1="630.24" x2="300" y2="630.24" stroke="#777" stroke-width="1"/>
<line x1="32.4" y1="690.72" x2="300" y2="690.72" stroke="#777" stroke-width="1"/>
<line x1="32.4" y1="568.8" x2="32.4" y2="751.7" stroke="#1a1a1a" stroke-width="1"/>
<line x1="34.1" y1="751.4" x2="301.8" y2="751.4" stroke="#1a1a1a" stroke-width="1.1"/>
<line x1="29.2" y1="751.2" x2="32.4" y2="751.2" stroke="#1a1a1a" stroke-width="1"/>
<text x="28.4" y="754.3" font-size="8.7" text-anchor="end" fill="#222">10</text>
<line x1="29.2" y1="690.72" x2="32.4" y2="690.72" stroke="#1a1a1a" stroke-width="1"/>
<text x="28.4" y="693.82" font-size="8.7" text-anchor="end" fill="#222">14</text>
<line x1="29.2" y1="630.24" x2="32.4" y2="630.24" stroke="#1a1a1a" stroke-width="1"/>
<text x="28.4" y="633.34" font-size="8.7" text-anchor="end" fill="#222">18</text>
<line x1="29.2" y1="569.76" x2="32.4" y2="569.76" stroke="#1a1a1a" stroke-width="1"/>
<text x="28.4" y="572.86" font-size="8.7" text-anchor="end" fill="#222">22</text>
<path d="M41.3 751.4V756.5M62.45 751.4V756.5M83.6 751.4V756.5M104.75 751.4V756.5M125.9 751.4V756.5M147.05 751.4V756.5M168.2 751.4V756.5M189.35 751.4V756.5M210.5 751.4V756.5M231.65 751.4V756.5M252.8 751.4V756.5M273.95 751.4V756.5M295.1 751.4V756.5" stroke="#1a1a1a" stroke-width="1"/>
<text x="40.4" y="763.7" font-size="7.5" text-anchor="middle" fill="#222">12:00</text>
<text x="61.55" y="763.7" font-size="7.5" text-anchor="middle" fill="#222">14:00</text>
<text x="82.7" y="763.7" font-size="7.5" text-anchor="middle" fill="#222">16:00</text>
<text x="103.85" y="763.7" font-size="7.5" text-anchor="middle" fill="#222">18:00</text>
<text x="125" y="763.7" font-size="7.5" text-anchor="middle" fill="#222">20:00</text>
<text x="146.15" y="763.7" font-size="7.5" text-anchor="middle" fill="#222">22:00</text>
<text x="167.3" y="763.7" font-size="7.5" text-anchor="middle" fill="#222">0:00</text>
<text x="188.45" y="763.7" font-size="7.5" text-anchor="middle" fill="#222">2:00</text>
<text x="209.6" y="763.7" font-size="7.5" text-anchor="middle" fill="#222">4:00</text>
<text x="230.75" y="763.7" font-size="7.5" text-anchor="middle" fill="#222">6:00</text>
<text x="251.9" y="763.7" font-size="7.5" text-anchor="middle" fill="#222">8:00</text>
<text x="273.05" y="763.7" font-size="7.5" text-anchor="middle" fill="#222">10:00</text>
<text x="294.2" y="763.7" font-size="7.5" text-anchor="middle" fill="#222">12:00</text>
<text x="8.4" y="649.3" font-size="11.2" text-anchor="middle" textLength="94.8" lengthAdjust="spacingAndGlyphs" transform="rotate(-90 8.4 649.3)" fill="#111">EE (Kcal/h/kg BW)</text>
<defs><clipPath id="cin"><rect x="147" y="560" width="84.8" height="195"/></clipPath><clipPath id="cout"><path d="M0 560H147V760H0Z M231.8 560H340V760H231.8Z"/></clipPath><g id="edata"><path d="M41.3 727V735M38.1 727H44.5M38.1 735H44.5" stroke="currentColor" stroke-width="0.9" fill="none"/>
<path d="M41.3 705.5V713.5M38.1 705.5H44.5M38.1 713.5H44.5" stroke="currentColor" stroke-width="0.9" fill="none"/>
<path d="M41.3 687.6V701.6M38.1 687.6H44.5M38.1 701.6H44.5" stroke="currentColor" stroke-width="0.9" fill="none"/>
<path d="M41.3 676.4V693.2M38.1 676.4H44.5M38.1 693.2H44.5" stroke="currentColor" stroke-width="0.9" fill="none"/>
<path d="M51.88 727.3V733.3M48.67 727.3H55.08M48.67 733.3H55.08" stroke="currentColor" stroke-width="0.9" fill="none"/>
<path d="M51.88 700V710M48.67 700H55.08M48.67 710H55.08" stroke="currentColor" stroke-width="0.9" fill="none"/>
<path d="M51.88 700V710M48.67 700H55.08M48.67 710H55.08" stroke="currentColor" stroke-width="0.9" fill="none"/>
<path d="M51.88 687.8V695.8M48.67 687.8H55.08M48.67 695.8H55.08" stroke="currentColor" stroke-width="0.9" fill="none"/>
<path d="M62.45 732.4V740.4M59.25 732.4H65.65M59.25 740.4H65.65" stroke="currentColor" stroke-width="0.9" fill="none"/>
<path d="M62.45 704.5V714.5M59.25 704.5H65.65M59.25 714.5H65.65" stroke="currentColor" stroke-width="0.9" fill="none"/>
<path d="M62.45 692.2V704.2M59.25 692.2H65.65M59.25 704.2H65.65" stroke="currentColor" stroke-width="0.9" fill="none"/>
<path d="M62.45 685.5V702.5M59.25 685.5H65.65M59.25 702.5H65.65" stroke="currentColor" stroke-width="0.9" fill="none"/>
<path d="M73.02 725.5V733.5M69.82 725.5H76.22M69.82 733.5H76.22" stroke="currentColor" stroke-width="0.9" fill="none"/>
<path d="M73.02 705.5V713.5M69.82 705.5H76.22M69.82 713.5H76.22" stroke="currentColor" stroke-width="0.9" fill="none"/>
<path d="M73.02 690.5V702.5M69.82 690.5H76.22M69.82 702.5H76.22" stroke="currentColor" stroke-width="0.9" fill="none"/>
<path d="M73.02 687V702.2M69.82 687H76.22M69.82 702.2H76.22" stroke="currentColor" stroke-width="0.9" fill="none"/>
<path d="M83.6 717.2V727.2M80.4 717.2H86.8M80.4 727.2H86.8" stroke="currentColor" stroke-width="0.9" fill="none"/>
<path d="M83.6 701.7V711.7M80.4 701.7H86.8M80.4 711.7H86.8" stroke="currentColor" stroke-width="0.9" fill="none"/>
<path d="M83.6 700.7V712.7M80.4 700.7H86.8M80.4 712.7H86.8" stroke="currentColor" stroke-width="0.9" fill="none"/>
<path d="M83.6 679.8V697.8M80.4 679.8H86.8M80.4 697.8H86.8" stroke="currentColor" stroke-width="0.9" fill="none"/>
<path d="M94.17 716.4V732.4M90.97 716.4H97.38M90.97 732.4H97.38" stroke="currentColor" stroke-width="0.9" fill="none"/>
<path d="M94.17 694.1V706.1M90.97 694.1H97.38M90.97 706.1H97.38" stroke="currentColor" stroke-width="0.9" fill="none"/>
<path d="M94.17 686.5V696.5M90.97 686.5H97.38M90.97 696.5H97.38" stroke="currentColor" stroke-width="0.9" fill="none"/>
<path d="M94.17 685.1V697.1M90.97 685.1H97.38M90.97 697.1H97.38" stroke="currentColor" stroke-width="0.9" fill="none"/>
<path d="M104.75 714.8V724.8M101.55 714.8H107.95M101.55 724.8H107.95" stroke="currentColor" stroke-width="0.9" fill="none"/>
<path d="M104.75 690V700M101.55 690H107.95M101.55 700H107.95" stroke="currentColor" stroke-width="0.9" fill="none"/>
<path d="M104.75 673.7V685.7M101.55 673.7H107.95M101.55 685.7H107.95" stroke="currentColor" stroke-width="0.9" fill="none"/>
<path d="M104.75 669.5V680.5M101.55 669.5H107.95M101.55 680.5H107.95" stroke="currentColor" stroke-width="0.9" fill="none"/>
<path d="M115.32 710.9V718.9M112.12 710.9H118.52M112.12 718.9H118.52" stroke="currentColor" stroke-width="0.9" fill="none"/>
<path d="M115.32 685.1V697.1M112.12 685.1H118.52M112.12 697.1H118.52" stroke="currentColor" stroke-width="0.9" fill="none"/>
<path d="M115.32 688.3V700.3M112.12 688.3H118.52M112.12 700.3H118.52" stroke="currentColor" stroke-width="0.9" fill="none"/>
<path d="M115.32 669.8V701.8M112.12 669.8H118.52M112.12 701.8H118.52" stroke="currentColor" stroke-width="0.9" fill="none"/>
<path d="M125.9 693.6V699.6M122.7 693.6H129.1M122.7 699.6H129.1" stroke="currentColor" stroke-width="0.9" fill="none"/>
<path d="M125.9 665.5V677.5M122.7 665.5H129.1M122.7 677.5H129.1" stroke="currentColor" stroke-width="0.9" fill="none"/>
<path d="M125.9 665.7V677.7M122.7 665.7H129.1M122.7 677.7H129.1" stroke="currentColor" stroke-width="0.9" fill="none"/>
<path d="M125.9 658.6V674.6M122.7 658.6H129.1M122.7 674.6H129.1" stroke="currentColor" stroke-width="0.9" fill="none"/>
<path d="M136.47 692.6V698.6M133.28 692.6H139.67M133.28 698.6H139.67" stroke="currentColor" stroke-width="0.9" fill="none"/>
<path d="M136.47 654.5V666.5M133.28 654.5H139.67M133.28 666.5H139.67" stroke="currentColor" stroke-width="0.9" fill="none"/>
<path d="M136.47 640.6V658.6M133.28 640.6H139.67M133.28 658.6H139.67" stroke="currentColor" stroke-width="0.9" fill="none"/>
<path d="M136.47 625.3V645.3M133.28 625.3H139.67M133.28 645.3H139.67" stroke="currentColor" stroke-width="0.9" fill="none"/>
<path d="M147.05 695V701M143.85 695H150.25M143.85 701H150.25" stroke="currentColor" stroke-width="0.9" fill="none"/>
<path d="M147.05 661.5V675.5M143.85 661.5H150.25M143.85 675.5H150.25" stroke="currentColor" stroke-width="0.9" fill="none"/>
<path d="M147.05 638.6V656.6M143.85 638.6H150.25M143.85 656.6H150.25" stroke="currentColor" stroke-width="0.9" fill="none"/>
<path d="M147.05 623.8V639.8M143.85 623.8H150.25M143.85 639.8H150.25" stroke="currentColor" stroke-width="0.9" fill="none"/>
<path d="M157.62 694.9V700.9M154.43 694.9H160.82M154.43 700.9H160.82" stroke="currentColor" stroke-width="0.9" fill="none"/>
<path d="M157.62 662.5V680.5M154.43 662.5H160.82M154.43 680.5H160.82" stroke="currentColor" stroke-width="0.9" fill="none"/>
<path d="M157.62 628V640M154.43 628H160.82M154.43 640H160.82" stroke="currentColor" stroke-width="0.9" fill="none"/>
<path d="M157.62 622.3V634.3M154.43 622.3H160.82M154.43 634.3H160.82" stroke="currentColor" stroke-width="0.9" fill="none"/>
<path d="M168.2 696.6V702.6M165 696.6H171.4M165 702.6H171.4" stroke="currentColor" stroke-width="0.9" fill="none"/>
<path d="M168.2 668.9V682.9M165 668.9H171.4M165 682.9H171.4" stroke="currentColor" stroke-width="0.9" fill="none"/>
<path d="M168.2 622.3V634.3M165 622.3H171.4M165 634.3H171.4" stroke="currentColor" stroke-width="0.9" fill="none"/>
<path d="M168.2 611.7V621.7M165 611.7H171.4M165 621.7H171.4" stroke="currentColor" stroke-width="0.9" fill="none"/>
<path d="M178.77 698.8V704.8M175.57 698.8H181.97M175.57 704.8H181.97" stroke="currentColor" stroke-width="0.9" fill="none"/>
<path d="M178.77 663.5V679.5M175.57 663.5H181.97M175.57 679.5H181.97" stroke="currentColor" stroke-width="0.9" fill="none"/>
<path d="M178.77 616.6V632.6M175.57 616.6H181.97M175.57 632.6H181.97" stroke="currentColor" stroke-width="0.9" fill="none"/>
<path d="M178.77 588.8V610.8M175.57 588.8H181.97M175.57 610.8H181.97" stroke="currentColor" stroke-width="0.9" fill="none"/>
<path d="M189.35 696.8V702.8M186.15 696.8H192.55M186.15 702.8H192.55" stroke="currentColor" stroke-width="0.9" fill="none"/>
<path d="M189.35 661V685M186.15 661H192.55M186.15 685H192.55" stroke="currentColor" stroke-width="0.9" fill="none"/>
<path d="M189.35 620.6V638.6M186.15 620.6H192.55M186.15 638.6H192.55" stroke="currentColor" stroke-width="0.9" fill="none"/>
<path d="M189.35 614.6V628.6M186.15 614.6H192.55M186.15 628.6H192.55" stroke="currentColor" stroke-width="0.9" fill="none"/>
<path d="M199.93 702.5V710.5M196.73 702.5H203.12M196.73 710.5H203.12" stroke="currentColor" stroke-width="0.9" fill="none"/>
<path d="M199.93 665.7V689.7M196.73 665.7H203.12M196.73 689.7H203.12" stroke="currentColor" stroke-width="0.9" fill="none"/>
<path d="M199.93 625V655M196.73 625H203.12M196.73 655H203.12" stroke="currentColor" stroke-width="0.9" fill="none"/>
<path d="M199.93 616.9V628.9M196.73 616.9H203.12M196.73 628.9H203.12" stroke="currentColor" stroke-width="0.9" fill="none"/>
<path d="M210.5 699.5V707.5M207.3 699.5H213.7M207.3 707.5H213.7" stroke="currentColor" stroke-width="0.9" fill="none"/>
<path d="M210.5 670.8V690.8M207.3 670.8H213.7M207.3 690.8H213.7" stroke="currentColor" stroke-width="0.9" fill="none"/>
<path d="M210.5 623V637M207.3 623H213.7M207.3 637H213.7" stroke="currentColor" stroke-width="0.9" fill="none"/>
<path d="M210.5 599.5V617.5M207.3 599.5H213.7M207.3 617.5H213.7" stroke="currentColor" stroke-width="0.9" fill="none"/>
<path d="M221.07 705V713M217.88 705H224.27M217.88 713H224.27" stroke="currentColor" stroke-width="0.9" fill="none"/>
<path d="M221.07 675.8V691.8M217.88 675.8H224.27M217.88 691.8H224.27" stroke="currentColor" stroke-width="0.9" fill="none"/>
<path d="M221.07 623V641M217.88 623H224.27M217.88 641H224.27" stroke="currentColor" stroke-width="0.9" fill="none"/>
<path d="M221.07 616.3V630.3M217.88 616.3H224.27M217.88 630.3H224.27" stroke="currentColor" stroke-width="0.9" fill="none"/>
<path d="M231.65 709V717M228.45 709H234.85M228.45 717H234.85" stroke="currentColor" stroke-width="0.9" fill="none"/>
<path d="M231.65 686.9V698.9M228.45 686.9H234.85M228.45 698.9H234.85" stroke="currentColor" stroke-width="0.9" fill="none"/>
<path d="M231.65 655.6V665.6M228.45 655.6H234.85M228.45 665.6H234.85" stroke="currentColor" stroke-width="0.9" fill="none"/>
<path d="M231.65 632V642M228.45 632H234.85M228.45 642H234.85" stroke="currentColor" stroke-width="0.9" fill="none"/>
<path d="M242.22 709V717M239.02 709H245.42M239.02 717H245.42" stroke="currentColor" stroke-width="0.9" fill="none"/>
<path d="M242.22 694.7V704.7M239.02 694.7H245.42M239.02 704.7H245.42" stroke="currentColor" stroke-width="0.9" fill="none"/>
<path d="M242.22 656.8V666.8M239.02 656.8H245.42M239.02 666.8H245.42" stroke="currentColor" stroke-width="0.9" fill="none"/>
<path d="M242.22 643.9V653.9M239.02 643.9H245.42M239.02 653.9H245.42" stroke="currentColor" stroke-width="0.9" fill="none"/>
<path d="M252.8 716.6V726.6M249.6 716.6H256M249.6 726.6H256" stroke="currentColor" stroke-width="0.9" fill="none"/>
<path d="M252.8 692.5V704.5M249.6 692.5H256M249.6 704.5H256" stroke="currentColor" stroke-width="0.9" fill="none"/>
<path d="M252.8 680.5V690.5M249.6 680.5H256M249.6 690.5H256" stroke="currentColor" stroke-width="0.9" fill="none"/>
<path d="M252.8 642.4V656.4M249.6 642.4H256M249.6 656.4H256" stroke="currentColor" stroke-width="0.9" fill="none"/>
<path d="M263.38 718.4V728.4M260.18 718.4H266.57M260.18 728.4H266.57" stroke="currentColor" stroke-width="0.9" fill="none"/>
<path d="M263.38 701.7V711.7M260.18 701.7H266.57M260.18 711.7H266.57" stroke="currentColor" stroke-width="0.9" fill="none"/>
<path d="M263.38 687.9V697.9M260.18 687.9H266.57M260.18 697.9H266.57" stroke="currentColor" stroke-width="0.9" fill="none"/>
<path d="M263.38 672.4V682.4M260.18 672.4H266.57M260.18 682.4H266.57" stroke="currentColor" stroke-width="0.9" fill="none"/>
<path d="M273.95 718.1V726.1M270.75 718.1H277.15M270.75 726.1H277.15" stroke="currentColor" stroke-width="0.9" fill="none"/>
<path d="M273.95 702.1V712.1M270.75 702.1H277.15M270.75 712.1H277.15" stroke="currentColor" stroke-width="0.9" fill="none"/>
<path d="M273.95 686.5V696.5M270.75 686.5H277.15M270.75 696.5H277.15" stroke="currentColor" stroke-width="0.9" fill="none"/>
<path d="M273.95 666.2V674.2M270.75 666.2H277.15M270.75 674.2H277.15" stroke="currentColor" stroke-width="0.9" fill="none"/>
<path d="M284.52 725.6V733.6M281.32 725.6H287.72M281.32 733.6H287.72" stroke="currentColor" stroke-width="0.9" fill="none"/>
<path d="M284.52 700.2V710.2M281.32 700.2H287.72M281.32 710.2H287.72" stroke="currentColor" stroke-width="0.9" fill="none"/>
<path d="M284.52 689V699M281.32 689H287.72M281.32 699H287.72" stroke="currentColor" stroke-width="0.9" fill="none"/>
<path d="M284.52 682V694M281.32 682H287.72M281.32 694H287.72" stroke="currentColor" stroke-width="0.9" fill="none"/>
<path d="M295.1 726.8V734.8M291.9 726.8H298.3M291.9 734.8H298.3" stroke="currentColor" stroke-width="0.9" fill="none"/>
<path d="M295.1 703.4V713.4M291.9 703.4H298.3M291.9 713.4H298.3" stroke="currentColor" stroke-width="0.9" fill="none"/>
<path d="M295.1 691V701M291.9 691H298.3M291.9 701H298.3" stroke="currentColor" stroke-width="0.9" fill="none"/>
<path d="M295.1 669.4V683.4M291.9 669.4H298.3M291.9 683.4H298.3" stroke="currentColor" stroke-width="0.9" fill="none"/>
<polyline points="41.3,731 51.88,730.3 62.45,736.4 73.02,729.5 83.6,722.2 94.17,724.4 104.75,719.8 115.32,714.9 125.9,696.6 136.47,695.6 147.05,698 157.62,697.9 168.2,699.6 178.77,701.8 189.35,699.8 199.93,706.5 210.5,703.5 221.07,709 231.65,713 242.22,713 252.8,721.6 263.38,723.4 273.95,722.1 284.52,729.6 295.1,730.8" fill="none" stroke="currentColor" stroke-width="1.3" stroke-linejoin="round"/>
<polyline points="41.3,709.5 51.88,705 62.45,709.5 73.02,709.5 83.6,706.7 94.17,700.1 104.75,695 115.32,691.1 125.9,671.5 136.47,660.5 147.05,668.5 157.62,671.5 168.2,675.9 178.77,671.5 189.35,673 199.93,677.7 210.5,680.8 221.07,683.8 231.65,692.9 242.22,699.7 252.8,698.5 263.38,706.7 273.95,707.1 284.52,705.2 295.1,708.4" fill="none" stroke="currentColor" stroke-width="1.3" stroke-linejoin="round"/>
<polyline points="41.3,694.6 51.88,705 62.45,698.2 73.02,696.5 83.6,706.7 94.17,691.5 104.75,679.7 115.32,694.3 125.9,671.7 136.47,649.6 147.05,647.6 157.62,634 168.2,628.3 178.77,624.6 189.35,629.6 199.93,640 210.5,630 221.07,632 231.65,660.6 242.22,661.8 252.8,685.5 263.38,692.9 273.95,691.5 284.52,694 295.1,696" fill="none" stroke="currentColor" stroke-width="1.3" stroke-linejoin="round"/>
<polyline points="41.3,684.8 51.88,691.8 62.45,694 73.02,694.6 83.6,688.8 94.17,691.1 104.75,675 115.32,685.8 125.9,666.6 136.47,635.3 147.05,631.8 157.62,628.3 168.2,616.7 178.77,599.8 189.35,621.6 199.93,622.9 210.5,608.5 221.07,623.3 231.65,637 242.22,648.9 252.8,649.4 263.38,677.4 273.95,670.2 284.52,688 295.1,676.4" fill="none" stroke="currentColor" stroke-width="1.3" stroke-linejoin="round"/>
<polygon points="41.3,727 45.6,735 37,735" fill="currentColor"/>
<polygon points="41.3,730.17 43.09,733.5 39.51,733.5" fill="#fff"/>
<polygon points="51.88,726.3 56.17,734.3 47.58,734.3" fill="currentColor"/>
<polygon points="51.88,729.47 53.67,732.8 50.08,732.8" fill="#fff"/>
<polygon points="62.45,732.4 66.75,740.4 58.15,740.4" fill="currentColor"/>
<polygon points="62.45,735.57 64.24,738.9 60.66,738.9" fill="#fff"/>
<polygon points="73.02,725.5 77.32,733.5 68.72,733.5" fill="currentColor"/>
<polygon points="73.02,728.67 74.82,732 71.23,732" fill="#fff"/>
<polygon points="83.6,718.2 87.9,726.2 79.3,726.2" fill="currentColor"/>
<polygon points="83.6,721.37 85.39,724.7 81.81,724.7" fill="#fff"/>
<polygon points="94.17,720.4 98.47,728.4 89.88,728.4" fill="currentColor"/>
<polygon points="94.17,723.57 95.97,726.9 92.38,726.9" fill="#fff"/>
<polygon points="104.75,715.8 109.05,723.8 100.45,723.8" fill="currentColor"/>
<polygon points="104.75,718.97 106.54,722.3 102.96,722.3" fill="#fff"/>
<polygon points="115.32,710.9 119.62,718.9 111.02,718.9" fill="currentColor"/>
<polygon points="115.32,714.07 117.12,717.4 113.53,717.4" fill="#fff"/>
<polygon points="125.9,692.6 130.2,700.6 121.6,700.6" fill="currentColor"/>
<polygon points="125.9,695.77 127.69,699.1 124.11,699.1" fill="#fff"/>
<polygon points="136.47,691.6 140.78,699.6 132.17,699.6" fill="currentColor"/>
<polygon points="136.47,694.77 138.27,698.1 134.68,698.1" fill="#fff"/>
<polygon points="147.05,694 151.35,702 142.75,702" fill="currentColor"/>
<polygon points="147.05,697.17 148.84,700.5 145.26,700.5" fill="#fff"/>
<polygon points="157.62,693.9 161.93,701.9 153.32,701.9" fill="currentColor"/>
<polygon points="157.62,697.07 159.42,700.4 155.83,700.4" fill="#fff"/>
<polygon points="168.2,695.6 172.5,703.6 163.9,703.6" fill="currentColor"/>
<polygon points="168.2,698.77 169.99,702.1 166.41,702.1" fill="#fff"/>
<polygon points="178.77,697.8 183.07,705.8 174.47,705.8" fill="currentColor"/>
<polygon points="178.77,700.97 180.57,704.3 176.98,704.3" fill="#fff"/>
<polygon points="189.35,695.8 193.65,703.8 185.05,703.8" fill="currentColor"/>
<polygon points="189.35,698.97 191.14,702.3 187.56,702.3" fill="#fff"/>
<polygon points="199.93,702.5 204.23,710.5 195.62,710.5" fill="currentColor"/>
<polygon points="199.93,705.67 201.72,709 198.13,709" fill="#fff"/>
<polygon points="210.5,699.5 214.8,707.5 206.2,707.5" fill="currentColor"/>
<polygon points="210.5,702.67 212.29,706 208.71,706" fill="#fff"/>
<polygon points="221.07,705 225.38,713 216.77,713" fill="currentColor"/>
<polygon points="221.07,708.17 222.87,711.5 219.28,711.5" fill="#fff"/>
<polygon points="231.65,709 235.95,717 227.35,717" fill="currentColor"/>
<polygon points="231.65,712.17 233.44,715.5 229.86,715.5" fill="#fff"/>
<polygon points="242.22,709 246.52,717 237.92,717" fill="currentColor"/>
<polygon points="242.22,712.17 244.02,715.5 240.43,715.5" fill="#fff"/>
<polygon points="252.8,717.6 257.1,725.6 248.5,725.6" fill="currentColor"/>
<polygon points="252.8,720.77 254.59,724.1 251.01,724.1" fill="#fff"/>
<polygon points="263.38,719.4 267.68,727.4 259.07,727.4" fill="currentColor"/>
<polygon points="263.38,722.57 265.17,725.9 261.58,725.9" fill="#fff"/>
<polygon points="273.95,718.1 278.25,726.1 269.65,726.1" fill="currentColor"/>
<polygon points="273.95,721.27 275.74,724.6 272.16,724.6" fill="#fff"/>
<polygon points="284.52,725.6 288.82,733.6 280.22,733.6" fill="currentColor"/>
<polygon points="284.52,728.77 286.32,732.1 282.73,732.1" fill="#fff"/>
<polygon points="295.1,726.8 299.4,734.8 290.8,734.8" fill="currentColor"/>
<polygon points="295.1,729.97 296.89,733.3 293.31,733.3" fill="#fff"/>
<polygon points="41.3,706.3 44.9,712.7 37.7,712.7" fill="currentColor"/>
<polygon points="51.88,701.8 55.48,708.2 48.27,708.2" fill="currentColor"/>
<polygon points="62.45,706.3 66.05,712.7 58.85,712.7" fill="currentColor"/>
<polygon points="73.02,706.3 76.62,712.7 69.42,712.7" fill="currentColor"/>
<polygon points="83.6,703.5 87.2,709.9 80,709.9" fill="currentColor"/>
<polygon points="94.17,696.9 97.77,703.3 90.58,703.3" fill="currentColor"/>
<polygon points="104.75,691.8 108.35,698.2 101.15,698.2" fill="currentColor"/>
<polygon points="115.32,687.9 118.92,694.3 111.72,694.3" fill="currentColor"/>
<polygon points="125.9,668.3 129.5,674.7 122.3,674.7" fill="currentColor"/>
<polygon points="136.47,657.3 140.07,663.7 132.88,663.7" fill="currentColor"/>
<polygon points="147.05,665.3 150.65,671.7 143.45,671.7" fill="currentColor"/>
<polygon points="157.62,668.3 161.22,674.7 154.03,674.7" fill="currentColor"/>
<polygon points="168.2,672.7 171.8,679.1 164.6,679.1" fill="currentColor"/>
<polygon points="178.77,668.3 182.37,674.7 175.17,674.7" fill="currentColor"/>
<polygon points="189.35,669.8 192.95,676.2 185.75,676.2" fill="currentColor"/>
<polygon points="199.93,674.5 203.53,680.9 196.33,680.9" fill="currentColor"/>
<polygon points="210.5,677.6 214.1,684 206.9,684" fill="currentColor"/>
<polygon points="221.07,680.6 224.67,687 217.47,687" fill="currentColor"/>
<polygon points="231.65,689.7 235.25,696.1 228.05,696.1" fill="currentColor"/>
<polygon points="242.22,696.5 245.82,702.9 238.62,702.9" fill="currentColor"/>
<polygon points="252.8,695.3 256.4,701.7 249.2,701.7" fill="currentColor"/>
<polygon points="263.38,703.5 266.98,709.9 259.77,709.9" fill="currentColor"/>
<polygon points="273.95,703.9 277.55,710.3 270.35,710.3" fill="currentColor"/>
<polygon points="284.52,702 288.12,708.4 280.92,708.4" fill="currentColor"/>
<polygon points="295.1,705.2 298.7,711.6 291.5,711.6" fill="currentColor"/>
<circle cx="41.3" cy="694.6" r="3.8" fill="currentColor"/>
<circle cx="51.88" cy="705" r="3.8" fill="currentColor"/>
<circle cx="62.45" cy="698.2" r="3.8" fill="currentColor"/>
<circle cx="73.02" cy="696.5" r="3.8" fill="currentColor"/>
<circle cx="83.6" cy="706.7" r="3.8" fill="currentColor"/>
<circle cx="94.17" cy="691.5" r="3.8" fill="currentColor"/>
<circle cx="104.75" cy="679.7" r="3.8" fill="currentColor"/>
<circle cx="115.32" cy="694.3" r="3.8" fill="currentColor"/>
<circle cx="125.9" cy="671.7" r="3.8" fill="currentColor"/>
<circle cx="136.47" cy="649.6" r="3.8" fill="currentColor"/>
<circle cx="147.05" cy="647.6" r="3.8" fill="currentColor"/>
<circle cx="157.62" cy="634" r="3.8" fill="currentColor"/>
<circle cx="168.2" cy="628.3" r="3.8" fill="currentColor"/>
<circle cx="178.77" cy="624.6" r="3.8" fill="currentColor"/>
<circle cx="189.35" cy="629.6" r="3.8" fill="currentColor"/>
<circle cx="199.93" cy="640" r="3.8" fill="currentColor"/>
<circle cx="210.5" cy="630" r="3.8" fill="currentColor"/>
<circle cx="221.07" cy="632" r="3.8" fill="currentColor"/>
<circle cx="231.65" cy="660.6" r="3.8" fill="currentColor"/>
<circle cx="242.22" cy="661.8" r="3.8" fill="currentColor"/>
<circle cx="252.8" cy="685.5" r="3.8" fill="currentColor"/>
<circle cx="263.38" cy="692.9" r="3.8" fill="currentColor"/>
<circle cx="273.95" cy="691.5" r="3.8" fill="currentColor"/>
<circle cx="284.52" cy="694" r="3.8" fill="currentColor"/>
<circle cx="295.1" cy="696" r="3.8" fill="currentColor"/>
<circle cx="41.3" cy="684.8" r="3.45" fill="#fff" stroke="currentColor" stroke-width="1.5"/>
<circle cx="51.88" cy="691.8" r="3.45" fill="#fff" stroke="currentColor" stroke-width="1.5"/>
<circle cx="62.45" cy="694" r="3.45" fill="#fff" stroke="currentColor" stroke-width="1.5"/>
<circle cx="73.02" cy="694.6" r="3.45" fill="#fff" stroke="currentColor" stroke-width="1.5"/>
<circle cx="83.6" cy="688.8" r="3.45" fill="#fff" stroke="currentColor" stroke-width="1.5"/>
<circle cx="94.17" cy="691.1" r="3.45" fill="#fff" stroke="currentColor" stroke-width="1.5"/>
<circle cx="104.75" cy="675" r="3.45" fill="#fff" stroke="currentColor" stroke-width="1.5"/>
<circle cx="115.32" cy="685.8" r="3.45" fill="#fff" stroke="currentColor" stroke-width="1.5"/>
<circle cx="125.9" cy="666.6" r="3.45" fill="#fff" stroke="currentColor" stroke-width="1.5"/>
<circle cx="136.47" cy="635.3" r="3.45" fill="#fff" stroke="currentColor" stroke-width="1.5"/>
<circle cx="147.05" cy="631.8" r="3.45" fill="#fff" stroke="currentColor" stroke-width="1.5"/>
<circle cx="157.62" cy="628.3" r="3.45" fill="#fff" stroke="currentColor" stroke-width="1.5"/>
<circle cx="168.2" cy="616.7" r="3.45" fill="#fff" stroke="currentColor" stroke-width="1.5"/>
<circle cx="178.77" cy="599.8" r="3.45" fill="#fff" stroke="currentColor" stroke-width="1.5"/>
<circle cx="189.35" cy="621.6" r="3.45" fill="#fff" stroke="currentColor" stroke-width="1.5"/>
<circle cx="199.93" cy="622.9" r="3.45" fill="#fff" stroke="currentColor" stroke-width="1.5"/>
<circle cx="210.5" cy="608.5" r="3.45" fill="#fff" stroke="currentColor" stroke-width="1.5"/>
<circle cx="221.07" cy="623.3" r="3.45" fill="#fff" stroke="currentColor" stroke-width="1.5"/>
<circle cx="231.65" cy="637" r="3.45" fill="#fff" stroke="currentColor" stroke-width="1.5"/>
<circle cx="242.22" cy="648.9" r="3.45" fill="#fff" stroke="currentColor" stroke-width="1.5"/>
<circle cx="252.8" cy="649.4" r="3.45" fill="#fff" stroke="currentColor" stroke-width="1.5"/>
<circle cx="263.38" cy="677.4" r="3.45" fill="#fff" stroke="currentColor" stroke-width="1.5"/>
<circle cx="273.95" cy="670.2" r="3.45" fill="#fff" stroke="currentColor" stroke-width="1.5"/>
<circle cx="284.52" cy="688" r="3.45" fill="#fff" stroke="currentColor" stroke-width="1.5"/>
<circle cx="295.1" cy="676.4" r="3.45" fill="#fff" stroke="currentColor" stroke-width="1.5"/></g></defs>
<use href="#edata" clip-path="url(#cout)" style="color:#000"/>
<use href="#edata" clip-path="url(#cin)" style="color:#444"/>
<line x1="86.1" y1="779.7" x2="100.4" y2="779.7" stroke="#000" stroke-width="1.3"/>
<circle cx="93.25" cy="779.7" r="2.75" fill="#fff" stroke="#000" stroke-width="1.3"/>
<text x="109.2" y="783" font-size="11" textLength="44.4" lengthAdjust="spacingAndGlyphs" fill="#111">WT NCD</text>
<line x1="86.1" y1="797.7" x2="100.4" y2="797.7" stroke="#000" stroke-width="1.3"/>
<polygon points="93.25,794.8 96.75,800.6 89.75,800.6" fill="#000"/>
<polygon points="93.25,797.32 94.45,799.3 92.05,799.3" fill="#fff"/>
<text x="109.2" y="801" font-size="11" textLength="42.8" lengthAdjust="spacingAndGlyphs" fill="#111">WT HFD</text>
<line x1="188.3" y1="779.7" x2="202.6" y2="779.7" stroke="#000" stroke-width="1.3"/>
<circle cx="195.45" cy="779.7" r="3.5" fill="#000"/>
<text x="0" y="0" font-size="11" fill="#111" transform="translate(213 783) scale(1.015 1)">Mlkl<tspan font-size="7.3" dy="-4.4">Adi-KO</tspan><tspan dy="4.4"> NCD</tspan></text>
<line x1="188.3" y1="797.7" x2="202.6" y2="797.7" stroke="#000" stroke-width="1.3"/>
<polygon points="195.45,794.8 198.95,800.6 191.95,800.6" fill="#000"/>
<text x="0" y="0" font-size="11" fill="#111" transform="translate(213 801) scale(1.02 1)">Mlkl<tspan font-size="7.3" dy="-4.4">Adi-KO</tspan><tspan dy="4.4"> HFD</tspan></text>
<text x="364.9" y="557.1" font-size="16" font-weight="bold" textLength="6.7" lengthAdjust="spacingAndGlyphs" fill="#000">f</text>
<line x1="376.8" y1="572" x2="376.8" y2="751.5" stroke="#7a7a7a" stroke-width="1.4"/>
<line x1="371.9" y1="750.9" x2="644.5" y2="750.9" stroke="#7a7a7a" stroke-width="1.4"/>
<line x1="372.2" y1="750.9" x2="376.8" y2="750.9" stroke="#7a7a7a" stroke-width="1.1"/>
<text x="368.6" y="754" font-size="8.7" text-anchor="end" fill="#222">10</text>
<line x1="372.2" y1="715.2" x2="376.8" y2="715.2" stroke="#7a7a7a" stroke-width="1.1"/>
<text x="368.6" y="718.3" font-size="8.7" text-anchor="end" fill="#222">12</text>
<line x1="372.2" y1="679.5" x2="376.8" y2="679.5" stroke="#7a7a7a" stroke-width="1.1"/>
<text x="368.6" y="682.6" font-size="8.7" text-anchor="end" fill="#222">14</text>
<line x1="372.2" y1="643.8" x2="376.8" y2="643.8" stroke="#7a7a7a" stroke-width="1.1"/>
<text x="368.6" y="646.9" font-size="8.7" text-anchor="end" fill="#222">16</text>
<line x1="372.2" y1="608.1" x2="376.8" y2="608.1" stroke="#7a7a7a" stroke-width="1.1"/>
<text x="368.6" y="611.2" font-size="8.7" text-anchor="end" fill="#222">18</text>
<line x1="372.2" y1="572.4" x2="376.8" y2="572.4" stroke="#7a7a7a" stroke-width="1.1"/>
<text x="368.6" y="575.5" font-size="8.7" text-anchor="end" fill="#222">20</text>
<text x="350.4" y="649.6" font-size="11.2" text-anchor="middle" textLength="98" lengthAdjust="spacingAndGlyphs" transform="rotate(-90 350.4 649.6)" fill="#111">EE  (Kcal/h/kg BW)</text>
<line x1="510.8" y1="565.1" x2="510.8" y2="750.9" stroke="#333" stroke-width="1" stroke-dasharray="2,2"/>
<text x="429.3" y="557" font-size="11" textLength="23.6" lengthAdjust="spacingAndGlyphs" fill="#111">NCD</text>
<text x="567.5" y="557" font-size="11" textLength="21.6" lengthAdjust="spacingAndGlyphs" fill="#111">HFD</text>
<path d="M383.8 750.1V671H392.6V750.1Z" fill="#fff" stroke="none"/>
<path d="M383.8 750.9V671H392.6V750.9" fill="none" stroke="#000" stroke-width="1.8" stroke-linejoin="miter"/>
<path d="M401 750.1V684.3H409.8V750.1Z" fill="#fff" stroke="none"/>
<path d="M401 750.9V684.3H409.8V750.9" fill="none" stroke="#000" stroke-width="1.8" stroke-linejoin="miter"/>
<path d="M429.3 750.1V605H438.1V750.1Z" fill="#fff" stroke="none"/>
<path d="M429.3 750.9V605H438.1V750.9" fill="none" stroke="#000" stroke-width="1.8" stroke-linejoin="miter"/>
<path d="M446.4 750.1V624.5H455.2V750.1Z" fill="#fff" stroke="none"/>
<path d="M446.4 750.9V624.5H455.2V750.9" fill="none" stroke="#000" stroke-width="1.8" stroke-linejoin="miter"/>
<path d="M474.7 750.1V643.9H483.5V750.1Z" fill="#fff" stroke="none"/>
<path d="M474.7 750.9V643.9H483.5V750.9" fill="none" stroke="#000" stroke-width="1.8" stroke-linejoin="miter"/>
<path d="M491.6 750.1V652.8H500.4V750.1Z" fill="#fff" stroke="none"/>
<path d="M491.6 750.9V652.8H500.4V750.9" fill="none" stroke="#000" stroke-width="1.8" stroke-linejoin="miter"/>
<path d="M519.8 750.1V719.2H528.6V750.1Z" fill="#fff" stroke="none"/>
<path d="M519.8 750.9V719.2H528.6V750.9" fill="none" stroke="#000" stroke-width="1.8" stroke-linejoin="miter"/>
<path d="M537.1 750.1V694.6H545.9V750.1Z" fill="#fff" stroke="none"/>
<path d="M537.1 750.9V694.6H545.9V750.9" fill="none" stroke="#000" stroke-width="1.8" stroke-linejoin="miter"/>
<path d="M565.1 750.1V690.7H573.9V750.1Z" fill="#fff" stroke="none"/>
<path d="M565.1 750.9V690.7H573.9V750.9" fill="none" stroke="#000" stroke-width="1.8" stroke-linejoin="miter"/>
<path d="M582.2 750.1V661.8H591V750.1Z" fill="#fff" stroke="none"/>
<path d="M582.2 750.9V661.8H591V750.9" fill="none" stroke="#000" stroke-width="1.8" stroke-linejoin="miter"/>
<path d="M610.6 750.1V708.4H619.4V750.1Z" fill="#fff" stroke="none"/>
<path d="M610.6 750.9V708.4H619.4V750.9" fill="none" stroke="#000" stroke-width="1.8" stroke-linejoin="miter"/>
<path d="M627.6 750.1V680H636.4V750.1Z" fill="#fff" stroke="none"/>
<path d="M627.6 750.9V680H636.4V750.9" fill="none" stroke="#000" stroke-width="1.8" stroke-linejoin="miter"/>
<circle cx="388.3" cy="643.6" r="3.8" fill="#fff" stroke="#000" stroke-width="1.8"/>
<circle cx="386.8" cy="679.2" r="3.8" fill="#fff" stroke="#000" stroke-width="1.8"/>
<circle cx="389.8" cy="679.2" r="3.8" fill="#fff" stroke="#000" stroke-width="1.8"/>
<circle cx="433.4" cy="590" r="3.8" fill="#fff" stroke="#000" stroke-width="1.8"/>
<circle cx="431" cy="608" r="3.8" fill="#fff" stroke="#000" stroke-width="1.8"/>
<circle cx="436.1" cy="608" r="3.8" fill="#fff" stroke="#000" stroke-width="1.8"/>
<circle cx="479" cy="626" r="3.8" fill="#fff" stroke="#000" stroke-width="1.8"/>
<circle cx="476.8" cy="644" r="3.8" fill="#fff" stroke="#000" stroke-width="1.8"/>
<circle cx="481.2" cy="644" r="3.8" fill="#fff" stroke="#000" stroke-width="1.8"/>
<circle cx="403" cy="679.2" r="4.6" fill="#000"/>
<circle cx="407.3" cy="679.2" r="4.6" fill="#000"/>
<circle cx="405.4" cy="697.6" r="4.6" fill="#000"/>
<circle cx="450.5" cy="608" r="4.6" fill="#000"/>
<circle cx="448.5" cy="625.9" r="4.6" fill="#000"/>
<circle cx="452.5" cy="625.9" r="4.6" fill="#000"/>
<circle cx="450.5" cy="643.6" r="4.6" fill="#000"/>
<circle cx="493.6" cy="644" r="4.6" fill="#000"/>
<circle cx="498.4" cy="644" r="4.6" fill="#000"/>
<circle cx="495.9" cy="661.7" r="4.6" fill="#000"/>
<polygon points="524.1,692.8 529.6,703.2 518.6,703.2" fill="#000"/>
<polygon points="524.1,696.44 526.78,701.5 521.42,701.5" fill="#fff"/>
<polygon points="522.8,710.3 528.3,720.7 517.3,720.7" fill="#000"/>
<polygon points="522.8,713.94 525.48,719 520.12,719" fill="#fff"/>
<polygon points="525.4,710.3 530.9,720.7 519.9,720.7" fill="#000"/>
<polygon points="525.4,713.94 528.08,719 522.72,719" fill="#fff"/>
<polygon points="522.8,727.8 528.3,738.2 517.3,738.2" fill="#000"/>
<polygon points="522.8,731.44 525.48,736.5 520.12,736.5" fill="#fff"/>
<polygon points="525.4,727.8 530.9,738.2 519.9,738.2" fill="#000"/>
<polygon points="525.4,731.44 528.08,736.5 522.72,736.5" fill="#fff"/>
<polygon points="567.8,674.2 573.3,684.6 562.3,684.6" fill="#000"/>
<polygon points="567.8,677.84 570.48,682.9 565.12,682.9" fill="#fff"/>
<polygon points="571.2,674.2 576.7,684.6 565.7,684.6" fill="#000"/>
<polygon points="571.2,677.84 573.88,682.9 568.52,682.9" fill="#fff"/>
<polygon points="569.6,692.2 575.1,702.6 564.1,702.6" fill="#000"/>
<polygon points="569.6,695.84 572.28,700.9 566.92,700.9" fill="#fff"/>
<polygon points="569.6,710.3 575.1,720.7 564.1,720.7" fill="#000"/>
<polygon points="569.6,713.94 572.28,719 566.92,719" fill="#fff"/>
<polygon points="613.4,692.2 618.9,702.6 607.9,702.6" fill="#000"/>
<polygon points="613.4,695.84 616.08,700.9 610.72,700.9" fill="#fff"/>
<polygon points="616.6,692.2 622.1,702.6 611.1,702.6" fill="#000"/>
<polygon points="616.6,695.84 619.28,700.9 613.92,700.9" fill="#fff"/>
<polygon points="615,709.2 620.5,719.6 609.5,719.6" fill="#000"/>
<polygon points="615,712.84 617.68,717.9 612.32,717.9" fill="#fff"/>
<polygon points="615,727.8 620.5,738.2 609.5,738.2" fill="#000"/>
<polygon points="615,731.44 617.68,736.5 612.32,736.5" fill="#fff"/>
<polygon points="541.6,657.3 546.4,666.5 536.8,666.5" fill="#000"/>
<polygon points="540,692.4 544.8,701.6 535.2,701.6" fill="#000"/>
<polygon points="543,692.4 547.8,701.6 538.2,701.6" fill="#000"/>
<polygon points="541.6,710.9 546.4,720.1 536.8,720.1" fill="#000"/>
<polygon points="586.4,621.3 591.2,630.5 581.6,630.5" fill="#000"/>
<polygon points="586.6,655.1 591.4,664.3 581.8,664.3" fill="#000"/>
<polygon points="585,674.8 589.8,684 580.2,684" fill="#000"/>
<polygon points="588.2,674.8 593,684 583.4,684" fill="#000"/>
<polygon points="632,639.8 636.8,649 627.2,649" fill="#000"/>
<polygon points="632,674.8 636.8,684 627.2,684" fill="#000"/>
<polygon points="630.4,693.4 635.2,702.6 625.6,702.6" fill="#000"/>
<polygon points="633.6,693.4 638.4,702.6 628.8,702.6" fill="#000"/>
<path d="M388.2 661.7V675M384.95 661.7H391.45M384.95 675H391.45" stroke="#111" stroke-width="1" fill="none"/>
<path d="M405.4 682V688M402.15 682H408.65M402.15 688H408.65" stroke="#111" stroke-width="1" fill="none"/>
<path d="M433.7 599.4V609M430.45 599.4H436.95M430.45 609H436.95" stroke="#111" stroke-width="1" fill="none"/>
<path d="M450.8 618.4V632.6M447.55 618.4H454.05M447.55 632.6H454.05" stroke="#111" stroke-width="1" fill="none"/>
<path d="M479.1 634.5V648M475.85 634.5H482.35M475.85 648H482.35" stroke="#111" stroke-width="1" fill="none"/>
<path d="M496 647.8V657M492.75 647.8H499.25M492.75 657H499.25" stroke="#111" stroke-width="1" fill="none"/>
<path d="M524.2 710V725M520.95 710H527.45M520.95 725H527.45" stroke="#111" stroke-width="1" fill="none"/>
<path d="M541.5 685.3V701M538.25 685.3H544.75M538.25 701H544.75" stroke="#111" stroke-width="1" fill="none"/>
<path d="M569.5 683V697M566.25 683H572.75M566.25 697H572.75" stroke="#111" stroke-width="1" fill="none"/>
<path d="M586.6 652V667M583.35 652H589.85M583.35 667H589.85" stroke="#111" stroke-width="1" fill="none"/>
<path d="M615 701V714M611.75 701H618.25M611.75 714H618.25" stroke="#111" stroke-width="1" fill="none"/>
<path d="M632 669.6V688M628.75 669.6H635.25M628.75 688H635.25" stroke="#111" stroke-width="1" fill="none"/>
<polyline points="433.8,582.9 433.8,578.7 451.4,578.7 451.4,582.9" fill="none" stroke="#333" stroke-width="1"/>
<path d="M442.4 568L442.4 561.4M439.54 566.35L445.26 563.05M445.26 566.35L439.54 563.05" stroke="#000" stroke-width="1.2" fill="none"/>
<polyline points="524.3,619.9 524.3,615.6 541.9,615.6 541.9,619.9" fill="none" stroke="#333" stroke-width="1"/>
<path d="M533 608.9L533 602.3M530.14 607.25L535.86 603.95M535.86 607.25L530.14 603.95" stroke="#000" stroke-width="1.2" fill="none"/>
<polyline points="570.2,619.9 570.2,615.6 587.2,615.6 587.2,619.9" fill="none" stroke="#333" stroke-width="1"/>
<path d="M578.5 608.9L578.5 602.3M575.64 607.25L581.36 603.95M581.36 607.25L575.64 603.95" stroke="#000" stroke-width="1.2" fill="none"/>
<polyline points="613.4,619.9 613.4,615.6 631.5,615.6 631.5,619.9" fill="none" stroke="#333" stroke-width="1"/>
<path d="M622.3 608.9L622.3 602.3M619.44 607.25L625.16 603.95M625.16 607.25L619.44 603.95" stroke="#000" stroke-width="1.2" fill="none"/>
<text x="376.7" y="764.3" font-size="11" textLength="40.2" lengthAdjust="spacingAndGlyphs" fill="#111">Daylight</text>
<text x="428.6" y="764.3" font-size="11" textLength="26" lengthAdjust="spacingAndGlyphs" fill="#111">Night</text>
<text x="472.3" y="764.3" font-size="11" textLength="28.5" lengthAdjust="spacingAndGlyphs" fill="#111">Mean</text>
<text x="512.5" y="764.3" font-size="11" textLength="40" lengthAdjust="spacingAndGlyphs" fill="#111">Daylight</text>
<text x="566.8" y="764.3" font-size="11" textLength="25.2" lengthAdjust="spacingAndGlyphs" fill="#111">Night</text>
<text x="608.8" y="764.3" font-size="11" textLength="27.4" lengthAdjust="spacingAndGlyphs" fill="#111">Mean</text>
<circle cx="614.6" cy="548.6" r="3.27" fill="#fff" stroke="#000" stroke-width="1.25"/>
<text x="627.5" y="552" font-size="9" textLength="36.4" lengthAdjust="spacingAndGlyphs" fill="#111">WT NCD</text>
<circle cx="614.6" cy="564.4" r="3.4" fill="#000"/>
<text x="0" y="0" font-size="9" fill="#111" transform="translate(627.5 567.2) scale(1.0 1)">Mlkl<tspan font-size="6" dy="-3.6">Adi-KO</tspan><tspan dy="3.6"> NCD</tspan></text>
<polygon points="614.6,576.4 618.7,583.6 610.5,583.6" fill="#000"/>
<polygon points="614.6,578.93 616.55,582.35 612.65,582.35" fill="#fff"/>
<text x="627.5" y="582.8" font-size="9" textLength="35.7" lengthAdjust="spacingAndGlyphs" fill="#111">WT HFD</text>
<polygon points="614.6,591.2 618.4,598 610.8,598" fill="#000"/>
<text x="0" y="0" font-size="9" fill="#111" transform="translate(627.5 597.7) scale(0.98 1)">Mlkl<tspan font-size="6" dy="-3.6">Adi-KO</tspan><tspan dy="3.6"> HFD</tspan></text>
</svg>
</body></html>
